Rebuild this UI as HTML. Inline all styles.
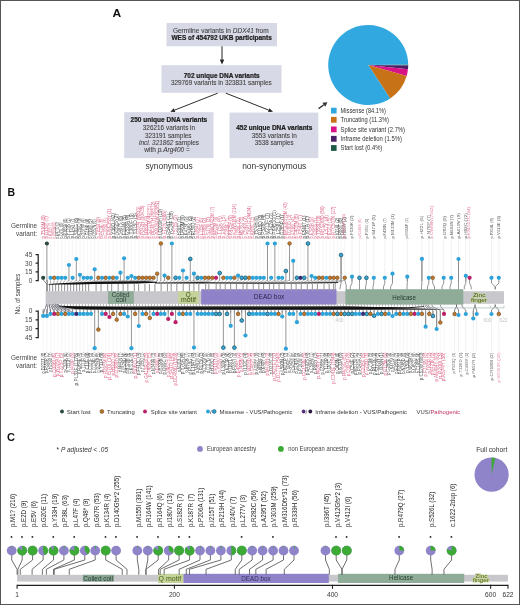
<!DOCTYPE html>
<html><head><meta charset="utf-8"><style>
html,body{margin:0;padding:0;background:#fff;}
svg{display:block;font-family:"Liberation Sans", sans-serif;will-change:transform;}
</style></head><body>
<svg width="520" height="605" viewBox="0 0 520 605" font-family='"Liberation Sans", sans-serif'>
<rect width="520" height="605" fill="#fff"/>
<rect x="0.5" y="0.5" width="519" height="604" fill="none" stroke="#555" stroke-width="1"/>
<text x="112.40" y="16.60" font-size="11" fill="#111" text-anchor="start" font-weight="bold" textLength="8.70" lengthAdjust="spacingAndGlyphs">A</text>
<rect x="166.5" y="23" width="110.5" height="23.3" fill="#d8d9e6"/>
<text x="172.90" y="32.90" font-size="6.4" fill="#3e3e3e" text-anchor="start" textLength="95.80" lengthAdjust="spacingAndGlyphs" stroke="#3e3e3e" stroke-width="0.08">Germline variants in <tspan font-style="italic">DDX41</tspan> from</text>
<text x="171.50" y="40.40" font-size="6.4" fill="#1e1e1e" text-anchor="start" font-weight="bold" textLength="100.30" lengthAdjust="spacingAndGlyphs" stroke="#1e1e1e" stroke-width="0.22">WES of 454792 UKB participants</text>
<rect x="161.5" y="65.2" width="120" height="27.6" fill="#d8d9e6"/>
<text x="183.70" y="77.60" font-size="6.4" fill="#1e1e1e" text-anchor="start" font-weight="bold" textLength="76.00" lengthAdjust="spacingAndGlyphs" stroke="#1e1e1e" stroke-width="0.22">702 unique DNA variants</text>
<text x="170.90" y="85.40" font-size="6.4" fill="#3e3e3e" text-anchor="start" textLength="100.90" lengthAdjust="spacingAndGlyphs" stroke="#3e3e3e" stroke-width="0.08">329769 variants in 323831 samples</text>
<rect x="124.2" y="112.2" width="89.3" height="45.9" fill="#d8d9e6"/>
<text x="130.60" y="121.80" font-size="6.4" fill="#1e1e1e" text-anchor="start" font-weight="bold" textLength="76.60" lengthAdjust="spacingAndGlyphs" stroke="#1e1e1e" stroke-width="0.22">250 unique DNA variants</text>
<text x="142.80" y="130.30" font-size="6.4" fill="#3e3e3e" text-anchor="start" textLength="52.30" lengthAdjust="spacingAndGlyphs" stroke="#3e3e3e" stroke-width="0.08">326216 variants in</text>
<text x="145.00" y="137.50" font-size="6.4" fill="#3e3e3e" text-anchor="start" textLength="46.50" lengthAdjust="spacingAndGlyphs" stroke="#3e3e3e" stroke-width="0.08">323191 samples</text>
<text x="139.00" y="144.80" font-size="6.4" fill="#3e3e3e" text-anchor="start" textLength="59.90" lengthAdjust="spacingAndGlyphs" stroke="#3e3e3e" stroke-width="0.08"><tspan font-style="italic">incl. 321862</tspan> samples</text>
<text x="144.30" y="152.20" font-size="6.4" fill="#3e3e3e" text-anchor="start" textLength="45.50" lengthAdjust="spacingAndGlyphs" stroke="#3e3e3e" stroke-width="0.08">with <tspan font-style="italic">p.Arg400</tspan> =</text>
<rect x="229.5" y="112.6" width="88.8" height="45.5" fill="#d8d9e6"/>
<text x="236.20" y="129.80" font-size="6.4" fill="#1e1e1e" text-anchor="start" font-weight="bold" textLength="76.20" lengthAdjust="spacingAndGlyphs" stroke="#1e1e1e" stroke-width="0.22">452 unique DNA variants</text>
<text x="251.70" y="137.50" font-size="6.4" fill="#3e3e3e" text-anchor="start" textLength="45.00" lengthAdjust="spacingAndGlyphs" stroke="#3e3e3e" stroke-width="0.08">3553 variants in</text>
<text x="254.80" y="145.10" font-size="6.4" fill="#3e3e3e" text-anchor="start" textLength="38.80" lengthAdjust="spacingAndGlyphs" stroke="#3e3e3e" stroke-width="0.08">3538 samples</text>
<text x="145.40" y="168.80" font-size="8.8" fill="#333" text-anchor="start" textLength="47.20" lengthAdjust="spacingAndGlyphs">synonymous</text>
<text x="242.20" y="168.80" font-size="8.8" fill="#333" text-anchor="start" textLength="64.10" lengthAdjust="spacingAndGlyphs">non-synonymous</text>
<line x1="222" y1="46.3" x2="222.00" y2="59.60" stroke="#222" stroke-width="1.0"/>
<polygon points="222,64.4 219.80,59.60 224.20,59.60" fill="#222"/>
<line x1="217.7" y1="93.2" x2="174.58" y2="110.12" stroke="#222" stroke-width="0.95"/>
<polygon points="170.3,111.8 173.85,108.26 175.31,111.98" fill="#222"/>
<line x1="225.9" y1="93.2" x2="268.72" y2="110.11" stroke="#222" stroke-width="0.95"/>
<polygon points="273.0,111.8 267.99,111.97 269.46,108.25" fill="#222"/>
<line x1="318.6" y1="108.6" x2="323.84" y2="104.79" stroke="#333" stroke-width="1.3"/>
<polygon points="327.4,102.2 325.31,106.81 322.37,102.77" fill="#333"/>
<path d="M368.2,65.0 L408.20,64.58 A40,40 0 0 1 408.20,65.59 Z" fill="#1d5b45"/>
<path d="M368.2,65.0 L408.20,65.59 A40,40 0 0 1 407.96,69.35 Z" fill="#4a1f66"/>
<path d="M368.2,65.0 L407.96,69.35 A40,40 0 0 1 406.66,76.00 Z" fill="#da1287"/>
<path d="M368.2,65.0 L406.66,76.00 A40,40 0 0 1 390.20,98.41 Z" fill="#c87218"/>
<path d="M368.2,65.0 L390.20,98.41 A40,40 0 1 1 408.20,64.58 Z" fill="#31a8df"/>
<rect x="331" y="107.70" width="5.6" height="5.8" fill="#31a8df"/>
<text x="340.60" y="112.90" font-size="6.3" fill="#333" text-anchor="start" textLength="45.20" lengthAdjust="spacingAndGlyphs">Missense (84.1%)</text>
<rect x="331" y="116.90" width="5.6" height="5.8" fill="#c87218"/>
<text x="340.60" y="122.10" font-size="6.3" fill="#333" text-anchor="start" textLength="48.40" lengthAdjust="spacingAndGlyphs">Truncating (11.3%)</text>
<rect x="331" y="126.50" width="5.6" height="5.8" fill="#da1287"/>
<text x="340.60" y="131.70" font-size="6.3" fill="#333" text-anchor="start" textLength="64.40" lengthAdjust="spacingAndGlyphs">Splice site variant (2.7%)</text>
<rect x="331" y="135.90" width="5.6" height="5.8" fill="#4a1f66"/>
<text x="340.60" y="141.10" font-size="6.3" fill="#333" text-anchor="start" textLength="61.30" lengthAdjust="spacingAndGlyphs">Inframe deletion (1.5%)</text>
<rect x="331" y="145.10" width="5.6" height="5.8" fill="#1d5b45"/>
<text x="340.60" y="150.30" font-size="6.3" fill="#333" text-anchor="start" textLength="41.70" lengthAdjust="spacingAndGlyphs">Start lost (0.4%)</text>
<text x="7.00" y="440.50" font-size="11" fill="#111" text-anchor="start" font-weight="bold">C</text>
<text x="56.60" y="451.90" font-size="6.9" fill="#333" text-anchor="start" textLength="51.50" lengthAdjust="spacingAndGlyphs">* <tspan font-style="italic">P adjusted &lt; .05</tspan></text>
<circle cx="200" cy="448.9" r="2.9" fill="#8f83c9"/>
<text x="206.90" y="451.40" font-size="6.5" fill="#444" text-anchor="start" textLength="49.40" lengthAdjust="spacingAndGlyphs">European ancestry</text>
<circle cx="280.9" cy="448.9" r="2.9" fill="#3daa36"/>
<text x="288.20" y="451.40" font-size="6.5" fill="#444" text-anchor="start" textLength="60.30" lengthAdjust="spacingAndGlyphs">non European ancestry</text>
<text x="476.20" y="451.50" font-size="6.5" fill="#333" text-anchor="start" textLength="31.10" lengthAdjust="spacingAndGlyphs">Full cohort</text>
<circle cx="491.6" cy="474.6" r="17.1" fill="#8f83c9"/>
<path d="M491.6,474.6 L491.60,457.50 A17.1,17.1 0 0 1 495.33,457.91 Z" fill="#3daa36"/>
<rect x="17.1" y="574.8" width="490.8" height="6.8" fill="#c8c8cc"/>
<rect x="82.80" y="574.8" width="31.20" height="6.80" fill="#86a491"/>
<rect x="158.00" y="573.8" width="25.50" height="9.20" fill="#c4d39a"/>
<rect x="183.50" y="573.8" width="145.30" height="9.20" fill="#8f82c9"/>
<rect x="338.00" y="573.8" width="126.20" height="9.20" fill="#8fac99"/>
<text x="83.20" y="580.90" font-size="7" fill="#2a3d33" text-anchor="start" textLength="29.80" lengthAdjust="spacingAndGlyphs">Coiled coil</text>
<text x="158.60" y="581.00" font-size="6.6" fill="#4a5e18" text-anchor="start" textLength="22.50" lengthAdjust="spacingAndGlyphs">Q motif</text>
<text x="241.20" y="581.20" font-size="6.8" fill="#34305e" text-anchor="start" textLength="29.50" lengthAdjust="spacingAndGlyphs">DEAD box</text>
<text x="389.10" y="580.40" font-size="6.6" fill="#28402f" text-anchor="start" textLength="24.10" lengthAdjust="spacingAndGlyphs">Helicase</text>
<text x="475.30" y="577.60" font-size="5.6" fill="#55621a" text-anchor="start" textLength="12.20" lengthAdjust="spacingAndGlyphs" stroke="#c8d99c" stroke-width="1.1" paint-order="stroke">Zinc</text>
<text x="472.70" y="581.50" font-size="5.6" fill="#55621a" text-anchor="start" textLength="16.40" lengthAdjust="spacingAndGlyphs" stroke="#c8d99c" stroke-width="1.1" paint-order="stroke">finger</text>
<line x1="17.1" y1="585.4" x2="508" y2="585.4" stroke="#222" stroke-width="1.3"/>
<line x1="17.10" y1="584.8" x2="17.10" y2="588.8" stroke="#222" stroke-width="1.1"/>
<text x="17.10" y="596.70" font-size="6.6" fill="#333" text-anchor="middle">1</text>
<line x1="174.41" y1="584.8" x2="174.41" y2="588.8" stroke="#222" stroke-width="1.1"/>
<text x="174.41" y="596.70" font-size="6.6" fill="#333" text-anchor="middle">200</text>
<line x1="332.51" y1="584.8" x2="332.51" y2="588.8" stroke="#222" stroke-width="1.1"/>
<text x="332.51" y="596.70" font-size="6.6" fill="#333" text-anchor="middle">400</text>
<line x1="490.61" y1="584.8" x2="490.61" y2="588.8" stroke="#222" stroke-width="1.1"/>
<text x="490.61" y="596.70" font-size="6.6" fill="#333" text-anchor="middle">600</text>
<line x1="508.00" y1="584.8" x2="508.00" y2="588.8" stroke="#222" stroke-width="1.1"/>
<text x="508.00" y="596.70" font-size="6.6" fill="#333" text-anchor="middle">622</text>
<path d="M11.7,555 L11.7,560 L17.10,569.3 L17.10,574.7" fill="none" stroke="#555" stroke-width="0.85"/>
<path d="M22.2,555 L22.2,560 L17.89,569.3 L17.89,574.7" fill="none" stroke="#555" stroke-width="0.85"/>
<path d="M32.6,555 L32.6,560 L20.26,569.3 L20.26,574.7" fill="none" stroke="#555" stroke-width="0.85"/>
<path d="M43.1,555 L43.1,560 L32.12,569.3 L32.12,574.7" fill="none" stroke="#555" stroke-width="0.85"/>
<path d="M53.5,555 L53.5,560 L42.40,569.3 L42.40,574.7" fill="none" stroke="#555" stroke-width="0.85"/>
<path d="M63.9,555 L63.9,560 L46.35,569.3 L46.35,574.7" fill="none" stroke="#555" stroke-width="0.85"/>
<path d="M74.4,555 L74.4,560 L53.46,569.3 L53.46,574.7" fill="none" stroke="#555" stroke-width="0.85"/>
<path d="M84.8,555 L84.8,560 L54.25,569.3 L54.25,574.7" fill="none" stroke="#555" stroke-width="0.85"/>
<path d="M95.2,555 L95.2,560 L69.27,569.3 L69.27,574.7" fill="none" stroke="#555" stroke-width="0.85"/>
<path d="M105.7,555 L105.7,560 L122.24,569.3 L122.24,574.7" fill="none" stroke="#555" stroke-width="0.85"/>
<path d="M116.1,555 L116.1,560 L126.98,569.3 L126.98,574.7" fill="none" stroke="#555" stroke-width="0.85"/>
<path d="M137.3,555 L137.3,560 L138.84,569.3 L138.84,574.7" fill="none" stroke="#555" stroke-width="0.85"/>
<path d="M147.8,555 L147.8,560 L145.95,569.3 L145.95,574.7" fill="none" stroke="#555" stroke-width="0.85"/>
<path d="M158.2,555 L158.2,560 L145.95,569.3 L145.95,574.7" fill="none" stroke="#555" stroke-width="0.85"/>
<path d="M168.7,555 L168.7,560 L158.60,569.3 L158.60,574.7" fill="none" stroke="#555" stroke-width="0.85"/>
<path d="M179.1,555 L179.1,560 L160.18,569.3 L160.18,574.7" fill="none" stroke="#555" stroke-width="0.85"/>
<path d="M189.6,555 L189.6,560 L164.13,569.3 L164.13,574.7" fill="none" stroke="#555" stroke-width="0.85"/>
<path d="M200.0,555 L200.0,560 L179.15,569.3 L179.15,574.7" fill="none" stroke="#555" stroke-width="0.85"/>
<path d="M210.4,555 L210.4,560 L186.27,569.3 L186.27,574.7" fill="none" stroke="#555" stroke-width="0.85"/>
<path d="M220.9,555 L220.9,560 L189.43,569.3 L189.43,574.7" fill="none" stroke="#555" stroke-width="0.85"/>
<path d="M231.3,555 L231.3,560 L206.03,569.3 L206.03,574.7" fill="none" stroke="#555" stroke-width="0.85"/>
<path d="M241.8,555 L241.8,560 L235.28,569.3 L235.28,574.7" fill="none" stroke="#555" stroke-width="0.85"/>
<path d="M252.2,555 L252.2,560 L239.23,569.3 L239.23,574.7" fill="none" stroke="#555" stroke-width="0.85"/>
<path d="M262.6,555 L262.6,560 L249.51,569.3 L249.51,574.7" fill="none" stroke="#555" stroke-width="0.85"/>
<path d="M273.1,555 L273.1,560 L255.83,569.3 L255.83,574.7" fill="none" stroke="#555" stroke-width="0.85"/>
<path d="M283.5,555 L283.5,560 L266.11,569.3 L266.11,574.7" fill="none" stroke="#555" stroke-width="0.85"/>
<path d="M294.0,555 L294.0,560 L284.29,569.3 L284.29,574.7" fill="none" stroke="#555" stroke-width="0.85"/>
<path d="M325.5,555 L325.5,560 L329.35,569.3 L329.35,574.7" fill="none" stroke="#555" stroke-width="0.85"/>
<path d="M336.2,555 L336.2,560 L342.00,569.3 L342.00,574.7" fill="none" stroke="#555" stroke-width="0.85"/>
<path d="M346.8,555 L346.8,560 L342.00,569.3 L342.00,574.7" fill="none" stroke="#555" stroke-width="0.85"/>
<path d="M399.3,555 L399.3,560 L394.96,569.3 L394.96,574.7" fill="none" stroke="#555" stroke-width="0.85"/>
<path d="M430.7,555 L430.7,560 L432.11,569.3 L432.11,574.7" fill="none" stroke="#555" stroke-width="0.85"/>
<path d="M451.6,555 L451.6,560 L443.97,569.3 L443.97,574.7" fill="none" stroke="#555" stroke-width="0.85"/>
<circle cx="11.7" cy="550.6" r="4.9" fill="#8f83c9"/>
<path d="M11.7,550.6 L11.70,545.70 A4.9,4.9 0 0 1 12.31,545.74 Z" fill="#3daa36"/>
<circle cx="11.50" cy="536.9" r="0.95" fill="#222"/>
<text transform="translate(15.00,527.1) rotate(-90)" font-size="7" fill="#262626" textLength="33.21" lengthAdjust="spacingAndGlyphs">p.M1? (216)</text>
<circle cx="22.2" cy="550.6" r="4.9" fill="#8f83c9"/>
<path d="M22.2,550.6 L22.20,545.70 A4.9,4.9 0 1 1 18.24,547.72 Z" fill="#3daa36"/>
<circle cx="22.00" cy="536.9" r="0.95" fill="#222"/>
<text transform="translate(25.50,527.1) rotate(-90)" font-size="7" fill="#262626" textLength="26.36" lengthAdjust="spacingAndGlyphs">p.E2D (9)</text>
<circle cx="32.6" cy="550.6" r="4.9" fill="#8f83c9"/>
<circle cx="32.6" cy="550.6" r="4.9" fill="#3daa36"/>
<circle cx="32.40" cy="536.9" r="0.95" fill="#222"/>
<text transform="translate(35.90,527.1) rotate(-90)" font-size="7" fill="#262626" textLength="26.02" lengthAdjust="spacingAndGlyphs">p.E5V (6)</text>
<circle cx="43.1" cy="550.6" r="4.9" fill="#8f83c9"/>
<path d="M43.1,550.6 L43.10,545.70 A4.9,4.9 0 0 1 44.61,555.26 Z" fill="#3daa36"/>
<text transform="translate(46.40,527.1) rotate(-90)" font-size="7" fill="#262626" textLength="33.10" lengthAdjust="spacingAndGlyphs">p.G20E (11)</text>
<circle cx="53.5" cy="550.6" r="4.9" fill="#8f83c9"/>
<path d="M53.5,550.6 L53.50,545.70 A4.9,4.9 0 1 1 50.62,546.64 Z" fill="#3daa36"/>
<circle cx="53.30" cy="536.9" r="0.95" fill="#222"/>
<text transform="translate(56.80,527.1) rotate(-90)" font-size="7" fill="#262626" textLength="33.21" lengthAdjust="spacingAndGlyphs">p.Y33H (19)</text>
<circle cx="63.9" cy="550.6" r="4.9" fill="#8f83c9"/>
<path d="M63.9,550.6 L63.90,545.70 A4.9,4.9 0 0 1 64.82,545.79 Z" fill="#3daa36"/>
<text transform="translate(67.20,527.1) rotate(-90)" font-size="7" fill="#262626" textLength="31.96" lengthAdjust="spacingAndGlyphs">p.P38L (63)</text>
<circle cx="74.4" cy="550.6" r="4.9" fill="#8f83c9"/>
<path d="M74.4,550.6 L74.40,545.70 A4.9,4.9 0 1 1 69.74,549.09 Z" fill="#3daa36"/>
<circle cx="74.20" cy="536.9" r="0.95" fill="#222"/>
<text transform="translate(77.70,527.1) rotate(-90)" font-size="7" fill="#262626" textLength="28.41" lengthAdjust="spacingAndGlyphs">p.L47F (4)</text>
<circle cx="84.8" cy="550.6" r="4.9" fill="#8f83c9"/>
<path d="M84.8,550.6 L84.80,545.70 A4.9,4.9 0 0 1 87.68,554.56 Z" fill="#3daa36"/>
<text transform="translate(88.10,527.1) rotate(-90)" font-size="7" fill="#262626" textLength="28.42" lengthAdjust="spacingAndGlyphs">p.Q48* (9)</text>
<circle cx="95.2" cy="550.6" r="4.9" fill="#8f83c9"/>
<path d="M95.2,550.6 L95.20,545.70 A4.9,4.9 0 0 1 96.42,545.85 Z" fill="#3daa36"/>
<text transform="translate(98.50,527.1) rotate(-90)" font-size="7" fill="#262626" textLength="33.89" lengthAdjust="spacingAndGlyphs">p.G67R (53)</text>
<circle cx="105.7" cy="550.6" r="4.9" fill="#8f83c9"/>
<circle cx="105.7" cy="550.6" r="4.9" fill="#3daa36"/>
<circle cx="105.50" cy="536.9" r="0.95" fill="#222"/>
<text transform="translate(109.00,527.1) rotate(-90)" font-size="7" fill="#262626" textLength="33.21" lengthAdjust="spacingAndGlyphs">p.K134R (4)</text>
<circle cx="116.1" cy="550.6" r="4.9" fill="#8f83c9"/>
<circle cx="115.90" cy="536.9" r="0.95" fill="#222"/>
<text transform="translate(119.40,527.1) rotate(-90)" font-size="7" fill="#262626" textLength="51.36" lengthAdjust="spacingAndGlyphs">p.D140Gfs*2 (255)</text>
<circle cx="137.3" cy="550.6" r="4.9" fill="#8f83c9"/>
<path d="M137.3,550.6 L137.30,545.70 A4.9,4.9 0 0 1 137.91,545.74 Z" fill="#3daa36"/>
<circle cx="137.10" cy="536.9" r="0.95" fill="#222"/>
<text transform="translate(140.60,527.1) rotate(-90)" font-size="7" fill="#262626" textLength="38.35" lengthAdjust="spacingAndGlyphs">p.M155I (391)</text>
<circle cx="147.8" cy="550.6" r="4.9" fill="#8f83c9"/>
<path d="M147.8,550.6 L147.80,545.70 A4.9,4.9 0 0 1 148.41,545.74 Z" fill="#3daa36"/>
<text transform="translate(151.10,527.1) rotate(-90)" font-size="7" fill="#262626" textLength="41.77" lengthAdjust="spacingAndGlyphs">p.R164W (141)</text>
<circle cx="158.2" cy="550.6" r="4.9" fill="#8f83c9"/>
<path d="M158.2,550.6 L158.20,545.70 A4.9,4.9 0 1 1 154.24,547.72 Z" fill="#3daa36"/>
<circle cx="158.00" cy="536.9" r="0.95" fill="#222"/>
<text transform="translate(161.50,527.1) rotate(-90)" font-size="7" fill="#262626" textLength="33.89" lengthAdjust="spacingAndGlyphs">p.R164Q (6)</text>
<circle cx="168.7" cy="550.6" r="4.9" fill="#8f83c9"/>
<path d="M168.7,550.6 L168.70,545.70 A4.9,4.9 0 0 1 172.66,553.48 Z" fill="#3daa36"/>
<text transform="translate(172.00,527.1) rotate(-90)" font-size="7" fill="#262626" textLength="33.90" lengthAdjust="spacingAndGlyphs">p.I180V (13)</text>
<circle cx="179.1" cy="550.6" r="4.9" fill="#8f83c9"/>
<circle cx="179.1" cy="550.6" r="4.9" fill="#3daa36"/>
<circle cx="178.90" cy="536.9" r="0.95" fill="#222"/>
<text transform="translate(182.40,527.1) rotate(-90)" font-size="7" fill="#262626" textLength="33.21" lengthAdjust="spacingAndGlyphs">p.S182R (7)</text>
<circle cx="189.6" cy="550.6" r="4.9" fill="#8f83c9"/>
<path d="M189.6,550.6 L189.60,545.70 A4.9,4.9 0 1 1 186.25,547.03 Z" fill="#3daa36"/>
<circle cx="189.40" cy="536.9" r="0.95" fill="#222"/>
<text transform="translate(192.90,527.1) rotate(-90)" font-size="7" fill="#262626" textLength="33.21" lengthAdjust="spacingAndGlyphs">p.K187R (7)</text>
<circle cx="200.0" cy="550.6" r="4.9" fill="#8f83c9"/>
<path d="M200.0,550.6 L200.00,545.70 A4.9,4.9 0 0 1 200.61,545.74 Z" fill="#3daa36"/>
<text transform="translate(203.30,527.1) rotate(-90)" font-size="7" fill="#262626" textLength="39.38" lengthAdjust="spacingAndGlyphs">p.P206A (131)</text>
<circle cx="210.4" cy="550.6" r="4.9" fill="#8f83c9"/>
<path d="M210.4,550.6 L210.40,545.70 A4.9,4.9 0 0 1 211.01,545.74 Z" fill="#3daa36"/>
<text transform="translate(213.70,527.1) rotate(-90)" font-size="7" fill="#262626" textLength="33.44" lengthAdjust="spacingAndGlyphs">p.I215T (51)</text>
<circle cx="220.9" cy="550.6" r="4.9" fill="#8f83c9"/>
<path d="M220.9,550.6 L220.90,545.70 A4.9,4.9 0 0 1 221.82,545.79 Z" fill="#3daa36"/>
<text transform="translate(224.20,527.1) rotate(-90)" font-size="7" fill="#262626" textLength="36.98" lengthAdjust="spacingAndGlyphs">p.R219H (44)</text>
<circle cx="231.3" cy="550.6" r="4.9" fill="#8f83c9"/>
<path d="M231.3,550.6 L231.30,545.70 A4.9,4.9 0 0 1 231.30,555.50 Z" fill="#3daa36"/>
<text transform="translate(234.60,527.1) rotate(-90)" font-size="7" fill="#262626" textLength="30.47" lengthAdjust="spacingAndGlyphs">p.I240V (7)</text>
<circle cx="241.8" cy="550.6" r="4.9" fill="#8f83c9"/>
<circle cx="241.8" cy="550.6" r="4.9" fill="#3daa36"/>
<circle cx="241.60" cy="536.9" r="0.95" fill="#222"/>
<text transform="translate(245.10,527.1) rotate(-90)" font-size="7" fill="#262626" textLength="32.19" lengthAdjust="spacingAndGlyphs">p.L277V (3)</text>
<circle cx="252.2" cy="550.6" r="4.9" fill="#8f83c9"/>
<path d="M252.2,550.6 L252.20,545.70 A4.9,4.9 0 0 1 252.81,545.74 Z" fill="#3daa36"/>
<text transform="translate(255.50,527.1) rotate(-90)" font-size="7" fill="#262626" textLength="36.98" lengthAdjust="spacingAndGlyphs">p.R282C (56)</text>
<circle cx="262.6" cy="550.6" r="4.9" fill="#8f83c9"/>
<path d="M262.6,550.6 L262.60,545.70 A4.9,4.9 0 0 1 263.21,545.74 Z" fill="#3daa36"/>
<text transform="translate(265.90,527.1) rotate(-90)" font-size="7" fill="#262626" textLength="35.84" lengthAdjust="spacingAndGlyphs">p.A295T (52)</text>
<circle cx="273.1" cy="550.6" r="4.9" fill="#8f83c9"/>
<path d="M273.1,550.6 L273.10,545.70 A4.9,4.9 0 0 1 273.71,545.74 Z" fill="#3daa36"/>
<circle cx="272.90" cy="536.9" r="0.95" fill="#222"/>
<text transform="translate(276.40,527.1) rotate(-90)" font-size="7" fill="#262626" textLength="40.74" lengthAdjust="spacingAndGlyphs">p.V303M (259)</text>
<circle cx="283.5" cy="550.6" r="4.9" fill="#8f83c9"/>
<path d="M283.5,550.6 L283.50,545.70 A4.9,4.9 0 0 1 284.11,545.74 Z" fill="#3daa36"/>
<text transform="translate(286.80,527.1) rotate(-90)" font-size="7" fill="#262626" textLength="51.70" lengthAdjust="spacingAndGlyphs">p.M316Dfs*31 (73)</text>
<circle cx="294.0" cy="550.6" r="4.9" fill="#8f83c9"/>
<path d="M294.0,550.6 L294.00,545.70 A4.9,4.9 0 0 1 294.92,545.79 Z" fill="#3daa36"/>
<text transform="translate(297.30,527.1) rotate(-90)" font-size="7" fill="#262626" textLength="36.98" lengthAdjust="spacingAndGlyphs">p.R339H (56)</text>
<circle cx="325.5" cy="550.6" r="4.9" fill="#8f83c9"/>
<path d="M325.5,550.6 L325.50,545.70 A4.9,4.9 0 0 1 326.11,545.74 Z" fill="#3daa36"/>
<text transform="translate(328.80,527.1) rotate(-90)" font-size="7" fill="#262626" textLength="33.44" lengthAdjust="spacingAndGlyphs">p.I396T (45)</text>
<circle cx="336.2" cy="550.6" r="4.9" fill="#8f83c9"/>
<circle cx="336.2" cy="550.6" r="4.9" fill="#3daa36"/>
<circle cx="336.00" cy="536.9" r="0.95" fill="#222"/>
<text transform="translate(339.50,527.1) rotate(-90)" font-size="7" fill="#262626" textLength="44.17" lengthAdjust="spacingAndGlyphs">p.V412Gfs*2 (3)</text>
<circle cx="346.8" cy="550.6" r="4.9" fill="#8f83c9"/>
<circle cx="346.8" cy="550.6" r="4.9" fill="#3daa36"/>
<circle cx="346.60" cy="536.9" r="0.95" fill="#222"/>
<text transform="translate(350.10,527.1) rotate(-90)" font-size="7" fill="#262626" textLength="30.47" lengthAdjust="spacingAndGlyphs">p.V412I (6)</text>
<circle cx="399.3" cy="550.6" r="4.9" fill="#8f83c9"/>
<path d="M399.3,550.6 L399.30,545.70 A4.9,4.9 0 0 1 404.20,550.60 Z" fill="#3daa36"/>
<circle cx="399.10" cy="536.9" r="0.95" fill="#222"/>
<text transform="translate(402.60,527.1) rotate(-90)" font-size="7" fill="#262626" textLength="37.32" lengthAdjust="spacingAndGlyphs">p.R479Q (27)</text>
<circle cx="430.7" cy="550.6" r="4.9" fill="#8f83c9"/>
<path d="M430.7,550.6 L430.70,545.70 A4.9,4.9 0 0 1 435.60,550.60 Z" fill="#3daa36"/>
<circle cx="430.50" cy="536.9" r="0.95" fill="#222"/>
<text transform="translate(434.00,527.1) rotate(-90)" font-size="7" fill="#262626" textLength="35.38" lengthAdjust="spacingAndGlyphs">p.S526L (32)</text>
<circle cx="451.6" cy="550.6" r="4.9" fill="#8f83c9"/>
<path d="M451.6,550.6 L451.60,545.70 A4.9,4.9 0 1 1 446.94,549.09 Z" fill="#3daa36"/>
<circle cx="451.40" cy="536.9" r="0.95" fill="#222"/>
<text transform="translate(454.90,527.1) rotate(-90)" font-size="7" fill="#262626" textLength="43.49" lengthAdjust="spacingAndGlyphs">c.1622-2dup (6)</text>
<text x="7.50" y="196.30" font-size="10.5" fill="#111" text-anchor="start" font-weight="bold">B</text>
<g><line x1="43.20" y1="239.5" x2="43.20" y2="277.80" stroke="#ececec" stroke-width="0.5"/><line x1="46.88" y1="239.5" x2="46.88" y2="243.50" stroke="#ececec" stroke-width="0.5"/><line x1="50.55" y1="239.5" x2="50.55" y2="277.80" stroke="#ececec" stroke-width="0.5"/><line x1="54.23" y1="239.5" x2="54.23" y2="277.80" stroke="#ececec" stroke-width="0.5"/><line x1="57.91" y1="239.5" x2="57.91" y2="277.80" stroke="#ececec" stroke-width="0.5"/><line x1="61.59" y1="239.5" x2="61.59" y2="277.80" stroke="#ececec" stroke-width="0.5"/><line x1="65.26" y1="239.5" x2="65.26" y2="277.80" stroke="#ececec" stroke-width="0.5"/><line x1="68.94" y1="239.5" x2="68.94" y2="265.00" stroke="#ececec" stroke-width="0.5"/><line x1="72.62" y1="239.5" x2="72.62" y2="277.80" stroke="#ececec" stroke-width="0.5"/><line x1="76.29" y1="239.5" x2="76.29" y2="259.00" stroke="#ececec" stroke-width="0.5"/><line x1="79.97" y1="239.5" x2="79.97" y2="274.80" stroke="#ececec" stroke-width="0.5"/><line x1="83.65" y1="239.5" x2="83.65" y2="277.80" stroke="#ececec" stroke-width="0.5"/><line x1="87.32" y1="239.5" x2="87.32" y2="277.80" stroke="#ececec" stroke-width="0.5"/><line x1="91.00" y1="239.5" x2="91.00" y2="277.80" stroke="#ececec" stroke-width="0.5"/><line x1="94.68" y1="239.5" x2="94.68" y2="269.30" stroke="#ececec" stroke-width="0.5"/><line x1="98.36" y1="239.5" x2="98.36" y2="277.80" stroke="#ececec" stroke-width="0.5"/><line x1="102.03" y1="239.5" x2="102.03" y2="277.80" stroke="#ececec" stroke-width="0.5"/><line x1="105.71" y1="239.5" x2="105.71" y2="277.80" stroke="#ececec" stroke-width="0.5"/><line x1="109.39" y1="239.5" x2="109.39" y2="277.80" stroke="#ececec" stroke-width="0.5"/><line x1="113.06" y1="239.5" x2="113.06" y2="277.80" stroke="#ececec" stroke-width="0.5"/><line x1="116.74" y1="239.5" x2="116.74" y2="277.80" stroke="#ececec" stroke-width="0.5"/><line x1="120.42" y1="239.5" x2="120.42" y2="272.70" stroke="#ececec" stroke-width="0.5"/><line x1="124.09" y1="239.5" x2="124.09" y2="258.30" stroke="#ececec" stroke-width="0.5"/><line x1="127.77" y1="239.5" x2="127.77" y2="277.80" stroke="#ececec" stroke-width="0.5"/><line x1="131.45" y1="239.5" x2="131.45" y2="276.00" stroke="#ececec" stroke-width="0.5"/><line x1="135.12" y1="239.5" x2="135.12" y2="277.80" stroke="#ececec" stroke-width="0.5"/><line x1="138.80" y1="239.5" x2="138.80" y2="277.80" stroke="#ececec" stroke-width="0.5"/><line x1="142.48" y1="239.5" x2="142.48" y2="277.80" stroke="#ececec" stroke-width="0.5"/><line x1="146.16" y1="239.5" x2="146.16" y2="277.80" stroke="#ececec" stroke-width="0.5"/><line x1="149.83" y1="239.5" x2="149.83" y2="277.80" stroke="#ececec" stroke-width="0.5"/><line x1="153.51" y1="239.5" x2="153.51" y2="277.80" stroke="#ececec" stroke-width="0.5"/><line x1="157.19" y1="239.5" x2="157.19" y2="273.70" stroke="#ececec" stroke-width="0.5"/><line x1="160.86" y1="239.5" x2="160.86" y2="243.50" stroke="#ececec" stroke-width="0.5"/><line x1="164.54" y1="239.5" x2="164.54" y2="275.60" stroke="#ececec" stroke-width="0.5"/><line x1="168.22" y1="239.5" x2="168.22" y2="277.80" stroke="#ececec" stroke-width="0.5"/><line x1="171.89" y1="239.5" x2="171.89" y2="243.50" stroke="#ececec" stroke-width="0.5"/><line x1="175.57" y1="239.5" x2="175.57" y2="277.80" stroke="#ececec" stroke-width="0.5"/><line x1="179.25" y1="239.5" x2="179.25" y2="277.80" stroke="#ececec" stroke-width="0.5"/><line x1="182.93" y1="239.5" x2="182.93" y2="270.50" stroke="#ececec" stroke-width="0.5"/><line x1="186.60" y1="239.5" x2="186.60" y2="277.80" stroke="#ececec" stroke-width="0.5"/><line x1="190.28" y1="239.5" x2="190.28" y2="258.90" stroke="#ececec" stroke-width="0.5"/><line x1="193.96" y1="239.5" x2="193.96" y2="273.70" stroke="#ececec" stroke-width="0.5"/><line x1="197.63" y1="239.5" x2="197.63" y2="277.80" stroke="#ececec" stroke-width="0.5"/><line x1="201.31" y1="239.5" x2="201.31" y2="277.80" stroke="#ececec" stroke-width="0.5"/><line x1="204.99" y1="239.5" x2="204.99" y2="277.80" stroke="#ececec" stroke-width="0.5"/><line x1="208.67" y1="239.5" x2="208.67" y2="277.80" stroke="#ececec" stroke-width="0.5"/><line x1="212.34" y1="239.5" x2="212.34" y2="277.80" stroke="#ececec" stroke-width="0.5"/><line x1="216.02" y1="239.5" x2="216.02" y2="277.80" stroke="#ececec" stroke-width="0.5"/><line x1="219.70" y1="239.5" x2="219.70" y2="273.00" stroke="#ececec" stroke-width="0.5"/><line x1="223.37" y1="239.5" x2="223.37" y2="277.80" stroke="#ececec" stroke-width="0.5"/><line x1="227.05" y1="239.5" x2="227.05" y2="277.80" stroke="#ececec" stroke-width="0.5"/><line x1="230.73" y1="239.5" x2="230.73" y2="277.80" stroke="#ececec" stroke-width="0.5"/><line x1="234.40" y1="239.5" x2="234.40" y2="277.80" stroke="#ececec" stroke-width="0.5"/><line x1="238.08" y1="239.5" x2="238.08" y2="275.60" stroke="#ececec" stroke-width="0.5"/><line x1="241.76" y1="239.5" x2="241.76" y2="277.80" stroke="#ececec" stroke-width="0.5"/><line x1="245.44" y1="239.5" x2="245.44" y2="277.80" stroke="#ececec" stroke-width="0.5"/><line x1="249.11" y1="239.5" x2="249.11" y2="277.80" stroke="#ececec" stroke-width="0.5"/><line x1="252.79" y1="239.5" x2="252.79" y2="277.80" stroke="#ececec" stroke-width="0.5"/><line x1="256.47" y1="239.5" x2="256.47" y2="277.80" stroke="#ececec" stroke-width="0.5"/><line x1="260.14" y1="239.5" x2="260.14" y2="277.80" stroke="#ececec" stroke-width="0.5"/><line x1="263.82" y1="239.5" x2="263.82" y2="277.80" stroke="#ececec" stroke-width="0.5"/><line x1="267.50" y1="239.5" x2="267.50" y2="243.50" stroke="#ececec" stroke-width="0.5"/><line x1="271.17" y1="239.5" x2="271.17" y2="277.80" stroke="#ececec" stroke-width="0.5"/><line x1="274.85" y1="239.5" x2="274.85" y2="243.50" stroke="#ececec" stroke-width="0.5"/><line x1="278.53" y1="239.5" x2="278.53" y2="277.80" stroke="#ececec" stroke-width="0.5"/><line x1="282.20" y1="239.5" x2="282.20" y2="277.80" stroke="#ececec" stroke-width="0.5"/><line x1="285.88" y1="239.5" x2="285.88" y2="271.00" stroke="#ececec" stroke-width="0.5"/><line x1="289.56" y1="239.5" x2="289.56" y2="243.50" stroke="#ececec" stroke-width="0.5"/><line x1="293.24" y1="239.5" x2="293.24" y2="260.80" stroke="#ececec" stroke-width="0.5"/><line x1="296.91" y1="239.5" x2="296.91" y2="277.80" stroke="#ececec" stroke-width="0.5"/><line x1="300.59" y1="239.5" x2="300.59" y2="277.80" stroke="#ececec" stroke-width="0.5"/><line x1="304.27" y1="239.5" x2="304.27" y2="277.80" stroke="#ececec" stroke-width="0.5"/><line x1="307.94" y1="239.5" x2="307.94" y2="243.50" stroke="#ececec" stroke-width="0.5"/><line x1="311.62" y1="239.5" x2="311.62" y2="276.00" stroke="#ececec" stroke-width="0.5"/><line x1="315.30" y1="239.5" x2="315.30" y2="277.80" stroke="#ececec" stroke-width="0.5"/><line x1="318.97" y1="239.5" x2="318.97" y2="277.80" stroke="#ececec" stroke-width="0.5"/><line x1="322.65" y1="239.5" x2="322.65" y2="277.80" stroke="#ececec" stroke-width="0.5"/><line x1="326.33" y1="239.5" x2="326.33" y2="277.80" stroke="#ececec" stroke-width="0.5"/><line x1="330.01" y1="239.5" x2="330.01" y2="277.80" stroke="#ececec" stroke-width="0.5"/><line x1="333.68" y1="239.5" x2="333.68" y2="277.80" stroke="#ececec" stroke-width="0.5"/><line x1="337.36" y1="239.5" x2="337.36" y2="277.80" stroke="#ececec" stroke-width="0.5"/><line x1="341.04" y1="239.5" x2="341.04" y2="255.00" stroke="#ececec" stroke-width="0.5"/><line x1="344.71" y1="239.5" x2="344.71" y2="277.80" stroke="#ececec" stroke-width="0.5"/><line x1="352.00" y1="239.5" x2="352.00" y2="276.70" stroke="#e8e8e8" stroke-width="0.6"/><line x1="359.50" y1="239.5" x2="359.50" y2="277.80" stroke="#e8e8e8" stroke-width="0.6"/><line x1="366.40" y1="239.5" x2="366.40" y2="277.80" stroke="#e8e8e8" stroke-width="0.6"/><line x1="373.80" y1="239.5" x2="373.80" y2="277.80" stroke="#e8e8e8" stroke-width="0.6"/><line x1="384.80" y1="239.5" x2="384.80" y2="277.80" stroke="#e8e8e8" stroke-width="0.6"/><line x1="392.50" y1="239.5" x2="392.50" y2="273.70" stroke="#e8e8e8" stroke-width="0.6"/><line x1="407.30" y1="239.5" x2="407.30" y2="276.70" stroke="#e8e8e8" stroke-width="0.6"/><line x1="421.90" y1="239.5" x2="421.90" y2="258.90" stroke="#e8e8e8" stroke-width="0.6"/><line x1="428.80" y1="239.5" x2="428.80" y2="277.80" stroke="#e8e8e8" stroke-width="0.6"/><line x1="432.70" y1="239.5" x2="432.70" y2="277.80" stroke="#e8e8e8" stroke-width="0.6"/><line x1="443.70" y1="239.5" x2="443.70" y2="277.80" stroke="#e8e8e8" stroke-width="0.6"/><line x1="451.20" y1="239.5" x2="451.20" y2="277.80" stroke="#e8e8e8" stroke-width="0.6"/><line x1="458.50" y1="239.5" x2="458.50" y2="259.00" stroke="#e8e8e8" stroke-width="0.6"/><line x1="465.80" y1="239.5" x2="465.80" y2="275.80" stroke="#e8e8e8" stroke-width="0.6"/><line x1="469.60" y1="239.5" x2="469.60" y2="277.80" stroke="#e8e8e8" stroke-width="0.6"/><line x1="491.50" y1="239.5" x2="491.50" y2="277.80" stroke="#e8e8e8" stroke-width="0.6"/><line x1="498.80" y1="239.5" x2="498.80" y2="277.80" stroke="#e8e8e8" stroke-width="0.6"/><line x1="43.20" y1="315.90" x2="43.20" y2="351.5" stroke="#ececec" stroke-width="0.5"/><line x1="46.88" y1="315.90" x2="46.88" y2="351.5" stroke="#ececec" stroke-width="0.5"/><line x1="50.55" y1="313.90" x2="50.55" y2="351.5" stroke="#ececec" stroke-width="0.5"/><line x1="54.23" y1="313.90" x2="54.23" y2="351.5" stroke="#ececec" stroke-width="0.5"/><line x1="57.91" y1="313.90" x2="57.91" y2="351.5" stroke="#ececec" stroke-width="0.5"/><line x1="61.59" y1="313.90" x2="61.59" y2="351.5" stroke="#ececec" stroke-width="0.5"/><line x1="65.26" y1="313.90" x2="65.26" y2="351.5" stroke="#ececec" stroke-width="0.5"/><line x1="68.94" y1="313.90" x2="68.94" y2="351.5" stroke="#ececec" stroke-width="0.5"/><line x1="72.62" y1="313.90" x2="72.62" y2="351.5" stroke="#ececec" stroke-width="0.5"/><line x1="76.29" y1="313.90" x2="76.29" y2="351.5" stroke="#ececec" stroke-width="0.5"/><line x1="79.97" y1="313.90" x2="79.97" y2="351.5" stroke="#ececec" stroke-width="0.5"/><line x1="83.65" y1="313.90" x2="83.65" y2="351.5" stroke="#ececec" stroke-width="0.5"/><line x1="87.32" y1="313.90" x2="87.32" y2="351.5" stroke="#ececec" stroke-width="0.5"/><line x1="91.00" y1="313.90" x2="91.00" y2="351.5" stroke="#ececec" stroke-width="0.5"/><line x1="94.68" y1="348.20" x2="94.68" y2="351.5" stroke="#ececec" stroke-width="0.5"/><line x1="98.36" y1="329.60" x2="98.36" y2="351.5" stroke="#ececec" stroke-width="0.5"/><line x1="102.03" y1="313.90" x2="102.03" y2="351.5" stroke="#ececec" stroke-width="0.5"/><line x1="105.71" y1="313.90" x2="105.71" y2="351.5" stroke="#ececec" stroke-width="0.5"/><line x1="109.39" y1="317.00" x2="109.39" y2="351.5" stroke="#ececec" stroke-width="0.5"/><line x1="113.06" y1="313.90" x2="113.06" y2="351.5" stroke="#ececec" stroke-width="0.5"/><line x1="116.74" y1="319.70" x2="116.74" y2="351.5" stroke="#ececec" stroke-width="0.5"/><line x1="120.42" y1="313.90" x2="120.42" y2="351.5" stroke="#ececec" stroke-width="0.5"/><line x1="124.09" y1="313.90" x2="124.09" y2="351.5" stroke="#ececec" stroke-width="0.5"/><line x1="127.77" y1="316.50" x2="127.77" y2="351.5" stroke="#ececec" stroke-width="0.5"/><line x1="131.45" y1="348.20" x2="131.45" y2="351.5" stroke="#ececec" stroke-width="0.5"/><line x1="135.12" y1="313.90" x2="135.12" y2="351.5" stroke="#ececec" stroke-width="0.5"/><line x1="138.80" y1="326.00" x2="138.80" y2="351.5" stroke="#ececec" stroke-width="0.5"/><line x1="142.48" y1="313.90" x2="142.48" y2="351.5" stroke="#ececec" stroke-width="0.5"/><line x1="146.16" y1="313.90" x2="146.16" y2="351.5" stroke="#ececec" stroke-width="0.5"/><line x1="149.83" y1="318.00" x2="149.83" y2="351.5" stroke="#ececec" stroke-width="0.5"/><line x1="153.51" y1="313.90" x2="153.51" y2="351.5" stroke="#ececec" stroke-width="0.5"/><line x1="157.19" y1="313.90" x2="157.19" y2="351.5" stroke="#ececec" stroke-width="0.5"/><line x1="160.86" y1="313.90" x2="160.86" y2="351.5" stroke="#ececec" stroke-width="0.5"/><line x1="164.54" y1="313.90" x2="164.54" y2="351.5" stroke="#ececec" stroke-width="0.5"/><line x1="168.22" y1="319.00" x2="168.22" y2="351.5" stroke="#ececec" stroke-width="0.5"/><line x1="171.89" y1="313.90" x2="171.89" y2="351.5" stroke="#ececec" stroke-width="0.5"/><line x1="175.57" y1="322.20" x2="175.57" y2="351.5" stroke="#ececec" stroke-width="0.5"/><line x1="179.25" y1="313.90" x2="179.25" y2="351.5" stroke="#ececec" stroke-width="0.5"/><line x1="182.93" y1="313.90" x2="182.93" y2="351.5" stroke="#ececec" stroke-width="0.5"/><line x1="186.60" y1="313.90" x2="186.60" y2="351.5" stroke="#ececec" stroke-width="0.5"/><line x1="190.28" y1="313.90" x2="190.28" y2="351.5" stroke="#ececec" stroke-width="0.5"/><line x1="193.96" y1="347.60" x2="193.96" y2="351.5" stroke="#ececec" stroke-width="0.5"/><line x1="197.63" y1="313.90" x2="197.63" y2="351.5" stroke="#ececec" stroke-width="0.5"/><line x1="201.31" y1="313.90" x2="201.31" y2="351.5" stroke="#ececec" stroke-width="0.5"/><line x1="204.99" y1="313.90" x2="204.99" y2="351.5" stroke="#ececec" stroke-width="0.5"/><line x1="208.67" y1="313.90" x2="208.67" y2="351.5" stroke="#ececec" stroke-width="0.5"/><line x1="212.34" y1="313.90" x2="212.34" y2="351.5" stroke="#ececec" stroke-width="0.5"/><line x1="216.02" y1="313.90" x2="216.02" y2="351.5" stroke="#ececec" stroke-width="0.5"/><line x1="219.70" y1="313.90" x2="219.70" y2="351.5" stroke="#ececec" stroke-width="0.5"/><line x1="223.37" y1="347.60" x2="223.37" y2="351.5" stroke="#ececec" stroke-width="0.5"/><line x1="227.05" y1="313.90" x2="227.05" y2="351.5" stroke="#ececec" stroke-width="0.5"/><line x1="230.73" y1="325.80" x2="230.73" y2="351.5" stroke="#ececec" stroke-width="0.5"/><line x1="234.40" y1="347.60" x2="234.40" y2="351.5" stroke="#ececec" stroke-width="0.5"/><line x1="238.08" y1="313.90" x2="238.08" y2="351.5" stroke="#ececec" stroke-width="0.5"/><line x1="241.76" y1="320.50" x2="241.76" y2="351.5" stroke="#ececec" stroke-width="0.5"/><line x1="245.44" y1="335.50" x2="245.44" y2="351.5" stroke="#ececec" stroke-width="0.5"/><line x1="249.11" y1="313.90" x2="249.11" y2="351.5" stroke="#ececec" stroke-width="0.5"/><line x1="252.79" y1="313.90" x2="252.79" y2="351.5" stroke="#ececec" stroke-width="0.5"/><line x1="256.47" y1="313.90" x2="256.47" y2="351.5" stroke="#ececec" stroke-width="0.5"/><line x1="260.14" y1="313.90" x2="260.14" y2="351.5" stroke="#ececec" stroke-width="0.5"/><line x1="263.82" y1="313.90" x2="263.82" y2="351.5" stroke="#ececec" stroke-width="0.5"/><line x1="267.50" y1="313.90" x2="267.50" y2="351.5" stroke="#ececec" stroke-width="0.5"/><line x1="271.17" y1="313.90" x2="271.17" y2="351.5" stroke="#ececec" stroke-width="0.5"/><line x1="274.85" y1="313.90" x2="274.85" y2="351.5" stroke="#ececec" stroke-width="0.5"/><line x1="278.53" y1="313.90" x2="278.53" y2="351.5" stroke="#ececec" stroke-width="0.5"/><line x1="282.20" y1="316.50" x2="282.20" y2="351.5" stroke="#ececec" stroke-width="0.5"/><line x1="285.88" y1="348.70" x2="285.88" y2="351.5" stroke="#ececec" stroke-width="0.5"/><line x1="289.56" y1="313.90" x2="289.56" y2="351.5" stroke="#ececec" stroke-width="0.5"/><line x1="293.24" y1="313.90" x2="293.24" y2="351.5" stroke="#ececec" stroke-width="0.5"/><line x1="296.91" y1="322.20" x2="296.91" y2="351.5" stroke="#ececec" stroke-width="0.5"/><line x1="300.59" y1="313.90" x2="300.59" y2="351.5" stroke="#ececec" stroke-width="0.5"/><line x1="304.27" y1="313.90" x2="304.27" y2="351.5" stroke="#ececec" stroke-width="0.5"/><line x1="307.94" y1="313.90" x2="307.94" y2="351.5" stroke="#ececec" stroke-width="0.5"/><line x1="311.62" y1="313.90" x2="311.62" y2="351.5" stroke="#ececec" stroke-width="0.5"/><line x1="315.30" y1="313.90" x2="315.30" y2="351.5" stroke="#ececec" stroke-width="0.5"/><line x1="318.97" y1="313.90" x2="318.97" y2="351.5" stroke="#ececec" stroke-width="0.5"/><line x1="322.65" y1="313.90" x2="322.65" y2="351.5" stroke="#ececec" stroke-width="0.5"/><line x1="326.33" y1="313.90" x2="326.33" y2="351.5" stroke="#ececec" stroke-width="0.5"/><line x1="330.01" y1="313.90" x2="330.01" y2="351.5" stroke="#ececec" stroke-width="0.5"/><line x1="333.68" y1="313.90" x2="333.68" y2="351.5" stroke="#ececec" stroke-width="0.5"/><line x1="337.36" y1="313.90" x2="337.36" y2="351.5" stroke="#ececec" stroke-width="0.5"/><line x1="341.04" y1="313.90" x2="341.04" y2="351.5" stroke="#ececec" stroke-width="0.5"/><line x1="344.71" y1="313.90" x2="344.71" y2="351.5" stroke="#ececec" stroke-width="0.5"/><line x1="348.39" y1="313.90" x2="348.39" y2="351.5" stroke="#ececec" stroke-width="0.5"/><line x1="352.07" y1="313.90" x2="352.07" y2="351.5" stroke="#ececec" stroke-width="0.5"/><line x1="355.75" y1="313.90" x2="355.75" y2="351.5" stroke="#ececec" stroke-width="0.5"/><line x1="359.42" y1="313.90" x2="359.42" y2="351.5" stroke="#ececec" stroke-width="0.5"/><line x1="363.10" y1="313.90" x2="363.10" y2="351.5" stroke="#ececec" stroke-width="0.5"/><line x1="366.78" y1="313.90" x2="366.78" y2="351.5" stroke="#ececec" stroke-width="0.5"/><line x1="370.45" y1="313.90" x2="370.45" y2="351.5" stroke="#ececec" stroke-width="0.5"/><line x1="374.13" y1="315.70" x2="374.13" y2="351.5" stroke="#ececec" stroke-width="0.5"/><line x1="377.81" y1="313.90" x2="377.81" y2="351.5" stroke="#ececec" stroke-width="0.5"/><line x1="381.48" y1="313.90" x2="381.48" y2="351.5" stroke="#ececec" stroke-width="0.5"/><line x1="385.16" y1="313.90" x2="385.16" y2="351.5" stroke="#ececec" stroke-width="0.5"/><line x1="388.84" y1="313.90" x2="388.84" y2="351.5" stroke="#ececec" stroke-width="0.5"/><line x1="392.51" y1="316.00" x2="392.51" y2="351.5" stroke="#ececec" stroke-width="0.5"/><line x1="396.19" y1="313.90" x2="396.19" y2="351.5" stroke="#ececec" stroke-width="0.5"/><line x1="399.87" y1="313.90" x2="399.87" y2="351.5" stroke="#ececec" stroke-width="0.5"/><line x1="403.55" y1="313.90" x2="403.55" y2="351.5" stroke="#ececec" stroke-width="0.5"/><line x1="407.22" y1="313.90" x2="407.22" y2="351.5" stroke="#ececec" stroke-width="0.5"/><line x1="410.90" y1="313.90" x2="410.90" y2="351.5" stroke="#ececec" stroke-width="0.5"/><line x1="414.58" y1="313.90" x2="414.58" y2="351.5" stroke="#ececec" stroke-width="0.5"/><line x1="418.25" y1="313.90" x2="418.25" y2="351.5" stroke="#ececec" stroke-width="0.5"/><line x1="421.93" y1="313.90" x2="421.93" y2="351.5" stroke="#ececec" stroke-width="0.5"/><line x1="425.61" y1="326.70" x2="425.61" y2="351.5" stroke="#ececec" stroke-width="0.5"/><line x1="429.28" y1="313.90" x2="429.28" y2="351.5" stroke="#ececec" stroke-width="0.5"/><line x1="432.96" y1="316.00" x2="432.96" y2="351.5" stroke="#ececec" stroke-width="0.5"/><line x1="436.64" y1="329.00" x2="436.64" y2="351.5" stroke="#ececec" stroke-width="0.5"/><line x1="440.32" y1="322.50" x2="440.32" y2="351.5" stroke="#ececec" stroke-width="0.5"/><line x1="443.99" y1="313.90" x2="443.99" y2="351.5" stroke="#ececec" stroke-width="0.5"/><line x1="454.60" y1="314.00" x2="454.60" y2="351.5" stroke="#e8e8e8" stroke-width="0.6"/><line x1="458.50" y1="315.00" x2="458.50" y2="351.5" stroke="#e8e8e8" stroke-width="0.6"/><line x1="465.80" y1="314.00" x2="465.80" y2="351.5" stroke="#e8e8e8" stroke-width="0.6"/><line x1="473.30" y1="318.50" x2="473.30" y2="351.5" stroke="#e8e8e8" stroke-width="0.6"/><line x1="476.70" y1="314.00" x2="476.70" y2="351.5" stroke="#e8e8e8" stroke-width="0.6"/><line x1="491.50" y1="314.00" x2="491.50" y2="351.5" stroke="#e8e8e8" stroke-width="0.6"/><line x1="498.80" y1="314.00" x2="498.80" y2="351.5" stroke="#e8e8e8" stroke-width="0.6"/></g>
<rect x="45.6" y="291.2" width="458.4" height="12.6" fill="#c8c8cc"/>
<rect x="108.00" y="291.2" width="25.90" height="12.60" fill="#8fac99"/>
<rect x="178.00" y="291.2" width="20.80" height="12.60" fill="#c4d39a"/>
<rect x="201.20" y="289.2" width="135.30" height="15.40" fill="#8f82c9"/>
<rect x="345.40" y="289.2" width="117.90" height="15.40" fill="#8fac99"/>
<text x="111.80" y="296.80" font-size="6.3" fill="#2f3d35" text-anchor="start" textLength="17.80" lengthAdjust="spacingAndGlyphs">Coiled</text>
<text x="115.70" y="302.10" font-size="6.3" fill="#2f3d35" text-anchor="start" textLength="10.50" lengthAdjust="spacingAndGlyphs">coil</text>
<text x="188.10" y="296.50" font-size="6.3" fill="#3a4a12" text-anchor="middle">Q</text>
<text x="181.00" y="302.20" font-size="6.3" fill="#3a4a12" text-anchor="start" textLength="15.00" lengthAdjust="spacingAndGlyphs">motif</text>
<text x="253.80" y="299.40" font-size="6.6" fill="#2b2750" text-anchor="start" textLength="30.60" lengthAdjust="spacingAndGlyphs">DEAD box</text>
<text x="392.30" y="299.50" font-size="6.5" fill="#243a2d" text-anchor="start" textLength="23.50" lengthAdjust="spacingAndGlyphs">Helicase</text>
<text x="473.00" y="297.00" font-size="6.2" fill="#46541a" text-anchor="start" textLength="12.50" lengthAdjust="spacingAndGlyphs" stroke="#c2d49a" stroke-width="1.2" paint-order="stroke">Zinc</text>
<text x="471.00" y="302.30" font-size="6.2" fill="#46541a" text-anchor="start" textLength="16.00" lengthAdjust="spacingAndGlyphs" stroke="#c2d49a" stroke-width="1.2" paint-order="stroke">finger</text>
<g><line x1="46.60" y1="284" x2="46.60" y2="291.3" stroke="#9c9ca0" stroke-width="1.1"/><line x1="49.60" y1="284" x2="49.60" y2="291.3" stroke="#9c9ca0" stroke-width="1.1"/><line x1="52.60" y1="284" x2="52.60" y2="291.3" stroke="#9c9ca0" stroke-width="1.1"/><line x1="55.60" y1="284" x2="55.60" y2="291.3" stroke="#9c9ca0" stroke-width="1.1"/><line x1="58.60" y1="284" x2="58.60" y2="291.3" stroke="#9c9ca0" stroke-width="1.1"/><line x1="61.60" y1="284" x2="61.60" y2="291.3" stroke="#9c9ca0" stroke-width="1.1"/><line x1="64.60" y1="284" x2="64.60" y2="291.3" stroke="#9c9ca0" stroke-width="1.1"/><line x1="67.60" y1="284" x2="67.60" y2="291.3" stroke="#9c9ca0" stroke-width="1.1"/><line x1="70.60" y1="284" x2="70.60" y2="291.3" stroke="#9c9ca0" stroke-width="1.1"/><line x1="73.60" y1="284" x2="73.60" y2="291.3" stroke="#9c9ca0" stroke-width="1.1"/><line x1="76.60" y1="284" x2="76.60" y2="291.3" stroke="#9c9ca0" stroke-width="1.1"/><line x1="79.60" y1="284" x2="79.60" y2="291.3" stroke="#9c9ca0" stroke-width="1.1"/><line x1="82.60" y1="284" x2="82.60" y2="291.3" stroke="#9c9ca0" stroke-width="1.1"/><line x1="85.60" y1="284" x2="85.60" y2="291.3" stroke="#9c9ca0" stroke-width="1.1"/><line x1="88.60" y1="284" x2="88.60" y2="291.3" stroke="#9c9ca0" stroke-width="1.1"/><line x1="96.08" y1="284" x2="96.08" y2="291.3" stroke="#9c9ca0" stroke-width="1.1"/><line x1="101.06" y1="284" x2="101.06" y2="291.3" stroke="#9c9ca0" stroke-width="1.1"/><line x1="107.66" y1="284" x2="107.66" y2="291.3" stroke="#9c9ca0" stroke-width="1.1"/><line x1="111.67" y1="284" x2="111.67" y2="291.3" stroke="#9c9ca0" stroke-width="1.1"/><line x1="118.19" y1="284" x2="118.19" y2="291.3" stroke="#9c9ca0" stroke-width="1.1"/><line x1="123.18" y1="284" x2="123.18" y2="291.3" stroke="#9c9ca0" stroke-width="1.1"/><line x1="127.84" y1="284" x2="127.84" y2="291.3" stroke="#9c9ca0" stroke-width="1.1"/><line x1="134.32" y1="284" x2="134.32" y2="291.3" stroke="#9c9ca0" stroke-width="1.1"/><line x1="138.59" y1="284" x2="138.59" y2="291.3" stroke="#9c9ca0" stroke-width="1.1"/><line x1="144.94" y1="284" x2="144.94" y2="291.3" stroke="#9c9ca0" stroke-width="1.1"/><line x1="149.47" y1="284" x2="149.47" y2="291.3" stroke="#9c9ca0" stroke-width="1.1"/><line x1="154.92" y1="284" x2="154.92" y2="291.3" stroke="#9c9ca0" stroke-width="1.1"/><line x1="161.12" y1="284" x2="161.12" y2="291.3" stroke="#9c9ca0" stroke-width="1.1"/><line x1="167.48" y1="284" x2="167.48" y2="291.3" stroke="#9c9ca0" stroke-width="1.1"/><line x1="171.20" y1="284" x2="171.20" y2="291.3" stroke="#9c9ca0" stroke-width="1.1"/><line x1="176.84" y1="284" x2="176.84" y2="291.3" stroke="#9c9ca0" stroke-width="1.1"/><line x1="183.21" y1="284" x2="183.21" y2="291.3" stroke="#9c9ca0" stroke-width="1.1"/><line x1="189.37" y1="284" x2="189.37" y2="291.3" stroke="#9c9ca0" stroke-width="1.1"/><line x1="193.89" y1="284" x2="193.89" y2="291.3" stroke="#9c9ca0" stroke-width="1.1"/><line x1="198.85" y1="284" x2="198.85" y2="291.3" stroke="#9c9ca0" stroke-width="1.1"/><line x1="205.64" y1="284" x2="205.64" y2="291.3" stroke="#9c9ca0" stroke-width="1.1"/><line x1="208.81" y1="284" x2="208.81" y2="291.3" stroke="#9c9ca0" stroke-width="1.1"/><line x1="216.16" y1="284" x2="216.16" y2="291.3" stroke="#9c9ca0" stroke-width="1.1"/><line x1="220.20" y1="284" x2="220.20" y2="291.3" stroke="#9c9ca0" stroke-width="1.1"/><line x1="225.25" y1="284" x2="225.25" y2="291.3" stroke="#9c9ca0" stroke-width="1.1"/><line x1="230.58" y1="284" x2="230.58" y2="291.3" stroke="#9c9ca0" stroke-width="1.1"/><line x1="236.44" y1="284" x2="236.44" y2="291.3" stroke="#9c9ca0" stroke-width="1.1"/><line x1="243.06" y1="284" x2="243.06" y2="291.3" stroke="#9c9ca0" stroke-width="1.1"/><line x1="246.93" y1="284" x2="246.93" y2="291.3" stroke="#9c9ca0" stroke-width="1.1"/><line x1="253.30" y1="284" x2="253.30" y2="291.3" stroke="#9c9ca0" stroke-width="1.1"/><line x1="258.83" y1="284" x2="258.83" y2="291.3" stroke="#9c9ca0" stroke-width="1.1"/><line x1="263.59" y1="284" x2="263.59" y2="291.3" stroke="#9c9ca0" stroke-width="1.1"/><line x1="269.41" y1="284" x2="269.41" y2="291.3" stroke="#9c9ca0" stroke-width="1.1"/><line x1="273.65" y1="284" x2="273.65" y2="291.3" stroke="#9c9ca0" stroke-width="1.1"/><line x1="279.04" y1="284" x2="279.04" y2="291.3" stroke="#9c9ca0" stroke-width="1.1"/><line x1="284.79" y1="284" x2="284.79" y2="291.3" stroke="#9c9ca0" stroke-width="1.1"/><line x1="291.33" y1="284" x2="291.33" y2="291.3" stroke="#9c9ca0" stroke-width="1.1"/><line x1="296.13" y1="284" x2="296.13" y2="291.3" stroke="#9c9ca0" stroke-width="1.1"/><line x1="301.25" y1="284" x2="301.25" y2="291.3" stroke="#9c9ca0" stroke-width="1.1"/><line x1="307.31" y1="284" x2="307.31" y2="291.3" stroke="#9c9ca0" stroke-width="1.1"/><line x1="312.39" y1="284" x2="312.39" y2="291.3" stroke="#9c9ca0" stroke-width="1.1"/><line x1="317.42" y1="284" x2="317.42" y2="291.3" stroke="#9c9ca0" stroke-width="1.1"/><line x1="324.01" y1="284" x2="324.01" y2="291.3" stroke="#9c9ca0" stroke-width="1.1"/><line x1="329.18" y1="284" x2="329.18" y2="291.3" stroke="#9c9ca0" stroke-width="1.1"/><line x1="333.49" y1="284" x2="333.49" y2="291.3" stroke="#9c9ca0" stroke-width="1.1"/></g>
<path d="M46.88,280.2 L47.50,283.6 M50.55,280.2 L50.55,283.6 M54.23,280.2 L53.60,283.6 M57.91,280.2 L56.65,283.6 M61.59,280.2 L59.70,283.6 M65.26,280.2 L62.75,283.6 M68.94,280.2 L65.80,283.6 M72.62,280.2 L68.85,283.6 M76.29,280.2 L71.90,283.6 M79.97,280.2 L74.95,283.6 M83.65,280.2 L78.00,283.6 M87.32,280.2 L81.05,283.6 M91.00,280.2 L84.10,283.6 M94.68,280.2 L87.15,283.6 M98.36,280.2 L90.20,283.6 M102.03,280.2 L93.25,283.6 M105.71,280.2 L96.30,283.6 M109.39,280.2 L99.35,283.6 M113.06,280.2 L102.40,283.6 M116.74,280.2 L105.45,283.6 M120.42,280.2 L108.50,283.6 M124.09,280.2 L111.55,283.6 M127.77,280.2 L114.60,283.6 M131.45,280.2 L117.65,283.6 M135.12,280.2 L120.70,283.6 M138.80,280.2 L123.75,283.6 M142.48,280.2 L126.80,283.6 M146.16,280.2 L129.85,283.6 M149.83,280.2 L132.90,283.6 M153.51,280.2 L135.95,283.6 M157.19,280.2 L155.50,283.6 M160.86,280.2 L158.60,283.6 M164.54,280.2 L161.70,283.6 M168.22,280.2 L164.80,283.6 M171.89,280.2 L167.90,283.6 M175.57,280.2 L171.00,283.6 M179.25,280.2 L174.10,283.6 M182.93,280.2 L177.20,283.6 M186.60,280.2 L180.30,283.6 M190.28,280.2 L183.40,283.6 M193.96,280.2 L186.50,283.6 M197.63,280.2 L189.60,283.6 M201.31,280.2 L192.70,283.6 M204.99,280.2 L195.80,283.6 M208.67,280.2 L198.90,283.6 M212.34,280.2 L202.00,283.6 M216.02,280.2 L213.00,283.6 M219.70,280.2 L216.40,283.6 M223.37,280.2 L219.80,283.6 M227.05,280.2 L223.20,283.6 M230.73,280.2 L226.60,283.6 M234.40,280.2 L230.00,283.6 M238.08,280.2 L233.40,283.6 M241.76,280.2 L236.80,283.6 M245.44,280.2 L240.20,283.6 M249.11,280.2 L243.60,283.6 M252.79,280.2 L247.00,283.6 M256.47,280.2 L250.40,283.6 M260.14,280.2 L253.80,283.6 M263.82,280.2 L257.20,283.6 M267.50,280.2 L260.60,283.6 M271.17,280.2 L264.00,283.6 M274.85,280.2 L267.40,283.6 M278.53,280.2 L270.80,283.6 M282.20,280.2 L274.20,283.6 M285.88,280.2 L277.60,283.6 M289.56,280.2 L281.00,283.6 M293.24,280.2 L288.50,283.6 M296.91,280.2 L291.70,283.6 M300.59,280.2 L294.90,283.6 M304.27,280.2 L298.10,283.6 M307.94,280.2 L301.30,283.6 M311.62,280.2 L304.50,283.6 M315.30,280.2 L307.70,283.6 M318.97,280.2 L310.90,283.6 M322.65,280.2 L314.10,283.6 M326.33,280.2 L317.30,283.6 M330.01,280.2 L320.50,283.6 M333.68,280.2 L323.70,283.6 M337.36,280.2 L326.90,283.6 M341.04,280.2 L330.10,283.6 M344.71,280.2 L333.30,283.6" fill="none" stroke="#555" stroke-width="0.45"/>
<polygon points="48.6,283.9 60.0,283.2 75.0,282.4 95.0,281.8 120.0,281.4 145.0,281.3 157.0,281.7 157.0,282.7 145.0,283.3 120.0,283.8 95.0,284.1 75.0,284.4 60.0,284.6 48.6,284.8" fill="#111"/>
<polygon points="155.0,282.4 200.0,282.0 215.0,282.2 260.0,282.5 300.0,282.4 338.0,281.9 338.0,283.0 300.0,283.6 260.0,283.7 215.0,283.5 200.0,283.4 155.0,283.5" fill="#2a2a2a"/>
<path d="M43.20,279.8 L47.3,284.6 M46.88,279.8 L47.3,284.6 L47.3,291.3" fill="none" stroke="#555" stroke-width="0.7"/>
<path d="M337.3,279.8 L335.2,284.5 L335.2,289.3 M341.1,257 L341.1,283 L339.8,289.3 M344.7,279.8 L346.2,285.5 L346.2,289.3" fill="none" stroke="#666" stroke-width="0.7"/>
<path d="M352.00,278.20 L352.00,283.2 L350.30,286.8 L350.30,289.3 M359.50,279.30 L359.50,283.2 L359.50,286.8 L359.50,289.3 M366.40,279.30 L366.40,283.2 L365.60,286.8 L365.60,289.3 M373.80,279.30 L373.80,283.2 L373.00,286.8 L373.00,289.3 M384.80,279.30 L384.80,283.2 L383.50,286.8 L383.50,289.3 M392.50,275.20 L392.50,283.2 L390.60,286.8 L390.60,289.3 M407.30,278.20 L407.30,283.2 L407.00,286.8 L407.00,289.3 M421.90,260.40 L421.90,283.2 L421.50,286.8 L421.50,289.3 M428.80,279.30 L428.80,283.2 L427.50,286.8 L427.50,289.3 M432.70,279.30 L432.70,283.2 L434.50,286.8 L434.50,289.3 M443.70,279.30 L443.70,283.2 L442.00,286.8 L442.00,289.3 M451.20,279.30 L451.20,283.2 L450.00,286.8 L450.00,289.3 M458.50,260.50 L458.50,283.2 L458.50,286.8 L458.50,289.3 M465.80,277.30 L465.80,283.2 L464.30,286.8 L464.30,289.3 M469.60,279.30 L469.60,283.2 L471.20,286.8 L471.20,289.3 M491.50,279.30 L491.50,283.2 L495.20,286.8 L495.20,289.3 M498.80,279.30 L498.80,283.2 L495.20,286.8 L495.20,289.3" fill="none" stroke="#666" stroke-width="0.7"/>
<g><line x1="46.40" y1="303.6" x2="46.40" y2="306.6" stroke="#a4a4a8" stroke-width="0.8"/><line x1="49.40" y1="303.6" x2="49.40" y2="306.6" stroke="#a4a4a8" stroke-width="0.8"/><line x1="52.40" y1="303.6" x2="52.40" y2="306.6" stroke="#a4a4a8" stroke-width="0.8"/><line x1="55.40" y1="303.6" x2="55.40" y2="306.6" stroke="#a4a4a8" stroke-width="0.8"/><line x1="58.40" y1="303.6" x2="58.40" y2="306.6" stroke="#a4a4a8" stroke-width="0.8"/><line x1="61.40" y1="303.6" x2="61.40" y2="306.6" stroke="#a4a4a8" stroke-width="0.8"/><line x1="64.40" y1="303.6" x2="64.40" y2="306.6" stroke="#a4a4a8" stroke-width="0.8"/><line x1="67.40" y1="303.6" x2="67.40" y2="306.6" stroke="#a4a4a8" stroke-width="0.8"/><line x1="70.40" y1="303.6" x2="70.40" y2="306.6" stroke="#a4a4a8" stroke-width="0.8"/><line x1="73.40" y1="303.6" x2="73.40" y2="306.6" stroke="#a4a4a8" stroke-width="0.8"/><line x1="76.40" y1="303.6" x2="76.40" y2="306.6" stroke="#a4a4a8" stroke-width="0.8"/><line x1="79.40" y1="303.6" x2="79.40" y2="306.6" stroke="#a4a4a8" stroke-width="0.8"/><line x1="82.40" y1="303.6" x2="82.40" y2="306.6" stroke="#a4a4a8" stroke-width="0.8"/><line x1="85.40" y1="303.6" x2="85.40" y2="306.6" stroke="#a4a4a8" stroke-width="0.8"/><line x1="88.40" y1="303.6" x2="88.40" y2="306.6" stroke="#a4a4a8" stroke-width="0.8"/><line x1="91.40" y1="303.6" x2="91.40" y2="306.6" stroke="#a4a4a8" stroke-width="0.8"/><line x1="94.40" y1="303.6" x2="94.40" y2="306.6" stroke="#a4a4a8" stroke-width="0.8"/><line x1="97.40" y1="303.6" x2="97.40" y2="306.6" stroke="#a4a4a8" stroke-width="0.8"/><line x1="100.40" y1="303.6" x2="100.40" y2="306.6" stroke="#a4a4a8" stroke-width="0.8"/><line x1="103.40" y1="303.6" x2="103.40" y2="306.6" stroke="#a4a4a8" stroke-width="0.8"/><line x1="106.40" y1="303.6" x2="106.40" y2="306.6" stroke="#a4a4a8" stroke-width="0.8"/><line x1="109.40" y1="303.6" x2="109.40" y2="306.6" stroke="#a4a4a8" stroke-width="0.8"/><line x1="112.40" y1="303.6" x2="112.40" y2="306.6" stroke="#a4a4a8" stroke-width="0.8"/><line x1="115.40" y1="303.6" x2="115.40" y2="306.6" stroke="#a4a4a8" stroke-width="0.8"/><line x1="118.40" y1="303.6" x2="118.40" y2="306.6" stroke="#a4a4a8" stroke-width="0.8"/><line x1="121.40" y1="303.6" x2="121.40" y2="306.6" stroke="#a4a4a8" stroke-width="0.8"/><line x1="124.40" y1="303.6" x2="124.40" y2="306.6" stroke="#a4a4a8" stroke-width="0.8"/><line x1="127.40" y1="303.6" x2="127.40" y2="306.6" stroke="#a4a4a8" stroke-width="0.8"/><line x1="130.40" y1="303.6" x2="130.40" y2="306.6" stroke="#a4a4a8" stroke-width="0.8"/><line x1="133.40" y1="303.6" x2="133.40" y2="306.6" stroke="#a4a4a8" stroke-width="0.8"/><line x1="136.40" y1="303.6" x2="136.40" y2="306.6" stroke="#a4a4a8" stroke-width="0.8"/><line x1="139.40" y1="303.6" x2="139.40" y2="306.6" stroke="#a4a4a8" stroke-width="0.8"/><line x1="142.40" y1="303.6" x2="142.40" y2="306.6" stroke="#a4a4a8" stroke-width="0.8"/><line x1="145.40" y1="303.6" x2="145.40" y2="306.6" stroke="#a4a4a8" stroke-width="0.8"/><line x1="148.40" y1="303.6" x2="148.40" y2="306.6" stroke="#a4a4a8" stroke-width="0.8"/><line x1="151.40" y1="303.6" x2="151.40" y2="306.6" stroke="#a4a4a8" stroke-width="0.8"/><line x1="154.40" y1="303.6" x2="154.40" y2="306.6" stroke="#a4a4a8" stroke-width="0.8"/><line x1="157.40" y1="303.6" x2="157.40" y2="306.6" stroke="#a4a4a8" stroke-width="0.8"/><line x1="160.40" y1="303.6" x2="160.40" y2="306.6" stroke="#a4a4a8" stroke-width="0.8"/><line x1="163.40" y1="303.6" x2="163.40" y2="306.6" stroke="#a4a4a8" stroke-width="0.8"/><line x1="166.40" y1="303.6" x2="166.40" y2="306.6" stroke="#a4a4a8" stroke-width="0.8"/><line x1="169.40" y1="303.6" x2="169.40" y2="306.6" stroke="#a4a4a8" stroke-width="0.8"/><line x1="172.40" y1="303.6" x2="172.40" y2="306.6" stroke="#a4a4a8" stroke-width="0.8"/><line x1="175.40" y1="303.6" x2="175.40" y2="306.6" stroke="#a4a4a8" stroke-width="0.8"/><line x1="178.40" y1="303.6" x2="178.40" y2="306.6" stroke="#a4a4a8" stroke-width="0.8"/><line x1="181.40" y1="303.6" x2="181.40" y2="306.6" stroke="#a4a4a8" stroke-width="0.8"/><line x1="184.40" y1="303.6" x2="184.40" y2="306.6" stroke="#a4a4a8" stroke-width="0.8"/><line x1="187.40" y1="303.6" x2="187.40" y2="306.6" stroke="#a4a4a8" stroke-width="0.8"/><line x1="190.40" y1="303.6" x2="190.40" y2="306.6" stroke="#a4a4a8" stroke-width="0.8"/><line x1="193.40" y1="303.6" x2="193.40" y2="306.6" stroke="#a4a4a8" stroke-width="0.8"/><line x1="196.40" y1="303.6" x2="196.40" y2="306.6" stroke="#a4a4a8" stroke-width="0.8"/><line x1="199.40" y1="303.6" x2="199.40" y2="306.6" stroke="#a4a4a8" stroke-width="0.8"/><line x1="202.40" y1="303.6" x2="202.40" y2="306.6" stroke="#a4a4a8" stroke-width="0.8"/><line x1="205.40" y1="303.6" x2="205.40" y2="306.6" stroke="#a4a4a8" stroke-width="0.8"/><line x1="208.40" y1="303.6" x2="208.40" y2="306.6" stroke="#a4a4a8" stroke-width="0.8"/><line x1="211.40" y1="303.6" x2="211.40" y2="306.6" stroke="#a4a4a8" stroke-width="0.8"/><line x1="214.40" y1="303.6" x2="214.40" y2="306.6" stroke="#a4a4a8" stroke-width="0.8"/><line x1="217.40" y1="303.6" x2="217.40" y2="306.6" stroke="#a4a4a8" stroke-width="0.8"/><line x1="220.40" y1="303.6" x2="220.40" y2="306.6" stroke="#a4a4a8" stroke-width="0.8"/><line x1="223.40" y1="303.6" x2="223.40" y2="306.6" stroke="#a4a4a8" stroke-width="0.8"/><line x1="226.40" y1="303.6" x2="226.40" y2="306.6" stroke="#a4a4a8" stroke-width="0.8"/><line x1="229.40" y1="303.6" x2="229.40" y2="306.6" stroke="#a4a4a8" stroke-width="0.8"/><line x1="232.40" y1="303.6" x2="232.40" y2="306.6" stroke="#a4a4a8" stroke-width="0.8"/><line x1="235.40" y1="303.6" x2="235.40" y2="306.6" stroke="#a4a4a8" stroke-width="0.8"/><line x1="238.40" y1="303.6" x2="238.40" y2="306.6" stroke="#a4a4a8" stroke-width="0.8"/><line x1="241.40" y1="303.6" x2="241.40" y2="306.6" stroke="#a4a4a8" stroke-width="0.8"/><line x1="244.40" y1="303.6" x2="244.40" y2="306.6" stroke="#a4a4a8" stroke-width="0.8"/><line x1="247.40" y1="303.6" x2="247.40" y2="306.6" stroke="#a4a4a8" stroke-width="0.8"/><line x1="250.40" y1="303.6" x2="250.40" y2="306.6" stroke="#a4a4a8" stroke-width="0.8"/><line x1="253.40" y1="303.6" x2="253.40" y2="306.6" stroke="#a4a4a8" stroke-width="0.8"/><line x1="256.40" y1="303.6" x2="256.40" y2="306.6" stroke="#a4a4a8" stroke-width="0.8"/><line x1="259.40" y1="303.6" x2="259.40" y2="306.6" stroke="#a4a4a8" stroke-width="0.8"/><line x1="262.40" y1="303.6" x2="262.40" y2="306.6" stroke="#a4a4a8" stroke-width="0.8"/><line x1="265.40" y1="303.6" x2="265.40" y2="306.6" stroke="#a4a4a8" stroke-width="0.8"/><line x1="268.40" y1="303.6" x2="268.40" y2="306.6" stroke="#a4a4a8" stroke-width="0.8"/><line x1="271.40" y1="303.6" x2="271.40" y2="306.6" stroke="#a4a4a8" stroke-width="0.8"/><line x1="274.40" y1="303.6" x2="274.40" y2="306.6" stroke="#a4a4a8" stroke-width="0.8"/><line x1="277.40" y1="303.6" x2="277.40" y2="306.6" stroke="#a4a4a8" stroke-width="0.8"/><line x1="280.40" y1="303.6" x2="280.40" y2="306.6" stroke="#a4a4a8" stroke-width="0.8"/><line x1="283.40" y1="303.6" x2="283.40" y2="306.6" stroke="#a4a4a8" stroke-width="0.8"/><line x1="286.40" y1="303.6" x2="286.40" y2="306.6" stroke="#a4a4a8" stroke-width="0.8"/><line x1="289.40" y1="303.6" x2="289.40" y2="306.6" stroke="#a4a4a8" stroke-width="0.8"/><line x1="292.40" y1="303.6" x2="292.40" y2="306.6" stroke="#a4a4a8" stroke-width="0.8"/><line x1="295.40" y1="303.6" x2="295.40" y2="306.6" stroke="#a4a4a8" stroke-width="0.8"/><line x1="298.40" y1="303.6" x2="298.40" y2="306.6" stroke="#a4a4a8" stroke-width="0.8"/><line x1="301.40" y1="303.6" x2="301.40" y2="306.6" stroke="#a4a4a8" stroke-width="0.8"/><line x1="304.40" y1="303.6" x2="304.40" y2="306.6" stroke="#a4a4a8" stroke-width="0.8"/><line x1="307.40" y1="303.6" x2="307.40" y2="306.6" stroke="#a4a4a8" stroke-width="0.8"/><line x1="310.40" y1="303.6" x2="310.40" y2="306.6" stroke="#a4a4a8" stroke-width="0.8"/><line x1="313.40" y1="303.6" x2="313.40" y2="306.6" stroke="#a4a4a8" stroke-width="0.8"/><line x1="316.40" y1="303.6" x2="316.40" y2="306.6" stroke="#a4a4a8" stroke-width="0.8"/><line x1="319.40" y1="303.6" x2="319.40" y2="306.6" stroke="#a4a4a8" stroke-width="0.8"/><line x1="322.40" y1="303.6" x2="322.40" y2="306.6" stroke="#a4a4a8" stroke-width="0.8"/><line x1="325.40" y1="303.6" x2="325.40" y2="306.6" stroke="#a4a4a8" stroke-width="0.8"/><line x1="328.40" y1="303.6" x2="328.40" y2="306.6" stroke="#a4a4a8" stroke-width="0.8"/><line x1="331.40" y1="303.6" x2="331.40" y2="306.6" stroke="#a4a4a8" stroke-width="0.8"/><line x1="334.40" y1="303.6" x2="334.40" y2="306.6" stroke="#a4a4a8" stroke-width="0.8"/><line x1="337.40" y1="303.6" x2="337.40" y2="306.6" stroke="#a4a4a8" stroke-width="0.8"/><line x1="340.40" y1="303.6" x2="340.40" y2="306.6" stroke="#a4a4a8" stroke-width="0.8"/><line x1="343.40" y1="303.6" x2="343.40" y2="306.6" stroke="#a4a4a8" stroke-width="0.8"/><line x1="346.40" y1="303.6" x2="346.40" y2="306.6" stroke="#a4a4a8" stroke-width="0.8"/><line x1="349.40" y1="303.6" x2="349.40" y2="306.6" stroke="#a4a4a8" stroke-width="0.8"/><line x1="352.40" y1="303.6" x2="352.40" y2="306.6" stroke="#a4a4a8" stroke-width="0.8"/><line x1="355.40" y1="303.6" x2="355.40" y2="306.6" stroke="#a4a4a8" stroke-width="0.8"/><line x1="358.40" y1="303.6" x2="358.40" y2="306.6" stroke="#a4a4a8" stroke-width="0.8"/><line x1="361.40" y1="303.6" x2="361.40" y2="306.6" stroke="#a4a4a8" stroke-width="0.8"/><line x1="364.40" y1="303.6" x2="364.40" y2="306.6" stroke="#a4a4a8" stroke-width="0.8"/><line x1="367.40" y1="303.6" x2="367.40" y2="306.6" stroke="#a4a4a8" stroke-width="0.8"/><line x1="370.40" y1="303.6" x2="370.40" y2="306.6" stroke="#a4a4a8" stroke-width="0.8"/><line x1="373.40" y1="303.6" x2="373.40" y2="306.6" stroke="#a4a4a8" stroke-width="0.8"/><line x1="376.40" y1="303.6" x2="376.40" y2="306.6" stroke="#a4a4a8" stroke-width="0.8"/><line x1="379.40" y1="303.6" x2="379.40" y2="306.6" stroke="#a4a4a8" stroke-width="0.8"/><line x1="382.40" y1="303.6" x2="382.40" y2="306.6" stroke="#a4a4a8" stroke-width="0.8"/><line x1="385.40" y1="303.6" x2="385.40" y2="306.6" stroke="#a4a4a8" stroke-width="0.8"/><line x1="388.40" y1="303.6" x2="388.40" y2="306.6" stroke="#a4a4a8" stroke-width="0.8"/><line x1="391.40" y1="303.6" x2="391.40" y2="306.6" stroke="#a4a4a8" stroke-width="0.8"/><line x1="394.40" y1="303.6" x2="394.40" y2="306.6" stroke="#a4a4a8" stroke-width="0.8"/><line x1="397.40" y1="303.6" x2="397.40" y2="306.6" stroke="#a4a4a8" stroke-width="0.8"/><line x1="400.40" y1="303.6" x2="400.40" y2="306.6" stroke="#a4a4a8" stroke-width="0.8"/><line x1="403.40" y1="303.6" x2="403.40" y2="306.6" stroke="#a4a4a8" stroke-width="0.8"/><line x1="406.40" y1="303.6" x2="406.40" y2="306.6" stroke="#a4a4a8" stroke-width="0.8"/><line x1="409.40" y1="303.6" x2="409.40" y2="306.6" stroke="#a4a4a8" stroke-width="0.8"/><line x1="412.40" y1="303.6" x2="412.40" y2="306.6" stroke="#a4a4a8" stroke-width="0.8"/><line x1="415.40" y1="303.6" x2="415.40" y2="306.6" stroke="#a4a4a8" stroke-width="0.8"/><line x1="418.40" y1="303.6" x2="418.40" y2="306.6" stroke="#a4a4a8" stroke-width="0.8"/><line x1="421.40" y1="303.6" x2="421.40" y2="306.6" stroke="#a4a4a8" stroke-width="0.8"/></g>
<path d="M48.50,306.4 L54.23,309.6 M51.10,306.4 L57.91,309.6 M53.70,306.4 L61.59,309.6 M56.30,306.4 L65.26,309.6 M58.90,306.4 L68.94,309.6 M61.50,306.4 L72.62,309.6 M64.10,306.4 L76.29,309.6 M66.70,306.4 L79.97,309.6 M69.30,306.4 L83.65,309.6 M71.90,306.4 L87.32,309.6 M74.50,306.4 L91.00,309.6 M77.10,306.4 L94.68,309.6 M79.70,306.4 L98.36,309.6 M82.30,306.4 L102.03,309.6 M84.90,306.4 L105.71,309.6 M87.50,306.4 L109.39,309.6 M90.10,306.4 L113.06,309.6 M92.70,306.4 L116.74,309.6 M95.30,306.4 L120.42,309.6 M97.90,306.4 L124.09,309.6 M100.50,306.4 L127.77,309.6 M103.10,306.4 L131.45,309.6 M105.70,306.4 L135.12,309.6 M108.30,306.4 L138.80,309.6 M110.90,306.4 L142.48,309.6 M113.50,306.4 L146.16,309.6 M116.10,306.4 L149.83,309.6 M118.70,306.4 L153.51,309.6 M121.30,306.4 L157.19,309.6 M123.90,306.4 L160.86,309.6 M126.50,306.4 L164.54,309.6 M129.10,306.4 L168.22,309.6 M131.70,306.4 L171.89,309.6 M134.30,306.4 L175.57,309.6 M136.90,306.4 L179.25,309.6 M139.50,306.4 L182.93,309.6 M142.10,306.4 L186.60,309.6 M144.70,306.4 L190.28,309.6 M147.30,306.4 L193.96,309.6 M149.90,306.4 L197.63,309.6 M152.50,306.4 L201.31,309.6 M155.10,306.4 L204.99,309.6 M157.70,306.4 L208.67,309.6 M160.30,306.4 L212.34,309.6 M162.90,306.4 L216.02,309.6 M165.50,306.4 L219.70,309.6 M168.10,306.4 L223.37,309.6 M170.70,306.4 L227.05,309.6 M173.30,306.4 L230.73,309.6 M175.90,306.4 L234.40,309.6 M178.50,306.4 L238.08,309.6 M181.10,306.4 L241.76,309.6 M183.70,306.4 L245.44,309.6 M186.30,306.4 L249.11,309.6 M188.90,306.4 L252.79,309.6 M191.50,306.4 L256.47,309.6 M194.10,306.4 L260.14,309.6 M196.70,306.4 L263.82,309.6 M200.00,306.4 L267.50,309.6 M203.00,306.4 L271.17,309.6 M206.00,306.4 L274.85,309.6 M209.00,306.4 L278.53,309.6 M212.00,306.4 L282.20,309.6 M215.00,306.4 L285.88,309.6 M218.00,306.4 L289.56,309.6 M221.00,306.4 L293.24,309.6 M224.00,306.4 L296.91,309.6 M227.00,306.4 L300.59,309.6 M230.00,306.4 L304.27,309.6 M233.00,306.4 L307.94,309.6 M236.00,306.4 L311.62,309.6 M239.00,306.4 L315.30,309.6 M242.00,306.4 L318.97,309.6 M245.00,306.4 L322.65,309.6 M248.00,306.4 L326.33,309.6 M251.00,306.4 L330.01,309.6 M254.00,306.4 L333.68,309.6 M257.00,306.4 L337.36,309.6 M260.00,306.4 L341.04,309.6 M263.00,306.4 L344.71,309.6 M266.00,306.4 L348.39,309.6 M269.00,306.4 L352.07,309.6 M272.00,306.4 L355.75,309.6 M275.00,306.4 L359.42,309.6 M278.00,306.4 L363.10,309.6 M281.00,306.4 L366.78,309.6 M284.00,306.4 L370.45,309.6 M287.00,306.4 L374.13,309.6 M290.00,306.4 L377.81,309.6 M293.00,306.4 L381.48,309.6 M296.00,306.4 L385.16,309.6 M299.00,306.4 L388.84,309.6 M302.00,306.4 L392.51,309.6 M305.00,306.4 L396.19,309.6 M308.00,306.4 L399.87,309.6 M311.00,306.4 L403.55,309.6 M314.00,306.4 L407.22,309.6 M317.00,306.4 L410.90,309.6 M320.00,306.4 L414.58,309.6 M323.00,306.4 L418.25,309.6 M326.00,306.4 L421.93,309.6 M329.00,306.4 L425.61,309.6 M332.00,306.4 L429.28,309.6 M335.00,306.4 L432.96,309.6 M338.00,306.4 L436.64,309.6 M341.00,306.4 L440.32,309.6 M344.00,306.4 L443.99,309.6" fill="none" stroke="#555" stroke-width="0.45"/>
<polygon points="59.0,305.8 75.0,306.2 90.0,306.5 130.0,307.2 230.0,307.2 300.0,307.2 380.0,307.1 408.0,307.2 424.0,306.3 424.0,307.1 408.0,308.3 380.0,309.2 300.0,309.5 230.0,309.5 130.0,309.7 90.0,309.4 75.0,308.9 59.0,306.8" fill="#111"/>
<path d="M43.20,309 L43.20,312.70 M46.88,309 L46.88,312.70 M50.55,309 L50.55,312.70 M54.23,309 L54.23,312.70 M57.91,309 L57.91,312.70 M61.59,309 L61.59,312.70 M65.26,309 L65.26,312.70 M68.94,309 L68.94,312.70 M72.62,309 L72.62,312.70 M76.29,309 L76.29,312.70 M79.97,309 L79.97,312.70 M83.65,309 L83.65,312.70 M87.32,309 L87.32,312.70 M91.00,309 L91.00,312.70 M94.68,309 L94.68,312.70 M98.36,309 L98.36,312.70 M102.03,309 L102.03,312.70 M105.71,309 L105.71,312.70 M109.39,309 L109.39,312.70 M113.06,309 L113.06,312.70 M116.74,309 L116.74,312.70 M120.42,309 L120.42,312.70 M124.09,309 L124.09,312.70 M127.77,309 L127.77,312.70 M131.45,309 L131.45,312.70 M135.12,309 L135.12,312.70 M138.80,309 L138.80,312.70 M142.48,309 L142.48,312.70 M146.16,309 L146.16,312.70 M149.83,309 L149.83,312.70 M153.51,309 L153.51,312.70 M157.19,309 L157.19,312.70 M160.86,309 L160.86,312.70 M164.54,309 L164.54,312.70 M168.22,309 L168.22,312.70 M171.89,309 L171.89,312.70 M175.57,309 L175.57,312.70 M179.25,309 L179.25,312.70 M182.93,309 L182.93,312.70 M186.60,309 L186.60,312.70 M190.28,309 L190.28,312.70 M193.96,309 L193.96,312.70 M197.63,309 L197.63,312.70 M201.31,309 L201.31,312.70 M204.99,309 L204.99,312.70 M208.67,309 L208.67,312.70 M212.34,309 L212.34,312.70 M216.02,309 L216.02,312.70 M219.70,309 L219.70,312.70 M223.37,309 L223.37,312.70 M227.05,309 L227.05,312.70 M230.73,309 L230.73,312.70 M234.40,309 L234.40,312.70 M238.08,309 L238.08,312.70 M241.76,309 L241.76,312.70 M245.44,309 L245.44,312.70 M249.11,309 L249.11,312.70 M252.79,309 L252.79,312.70 M256.47,309 L256.47,312.70 M260.14,309 L260.14,312.70 M263.82,309 L263.82,312.70 M267.50,309 L267.50,312.70 M271.17,309 L271.17,312.70 M274.85,309 L274.85,312.70 M278.53,309 L278.53,312.70 M282.20,309 L282.20,312.70 M285.88,309 L285.88,312.70 M289.56,309 L289.56,312.70 M293.24,309 L293.24,312.70 M296.91,309 L296.91,312.70 M300.59,309 L300.59,312.70 M304.27,309 L304.27,312.70 M307.94,309 L307.94,312.70 M311.62,309 L311.62,312.70 M315.30,309 L315.30,312.70 M318.97,309 L318.97,312.70 M322.65,309 L322.65,312.70 M326.33,309 L326.33,312.70 M330.01,309 L330.01,312.70 M333.68,309 L333.68,312.70 M337.36,309 L337.36,312.70 M341.04,309 L341.04,312.70 M344.71,309 L344.71,312.70 M348.39,309 L348.39,312.70 M352.07,309 L352.07,312.70 M355.75,309 L355.75,312.70 M359.42,309 L359.42,312.70 M363.10,309 L363.10,312.70 M366.78,309 L366.78,312.70 M370.45,309 L370.45,312.70 M374.13,309 L374.13,312.70 M377.81,309 L377.81,312.70 M381.48,309 L381.48,312.70 M385.16,309 L385.16,312.70 M388.84,309 L388.84,312.70 M392.51,309 L392.51,312.70 M396.19,309 L396.19,312.70 M399.87,309 L399.87,312.70 M403.55,309 L403.55,312.70 M407.22,309 L407.22,312.70 M410.90,309 L410.90,312.70 M414.58,309 L414.58,312.70 M418.25,309 L418.25,312.70 M421.93,309 L421.93,312.70" fill="none" stroke="#444" stroke-width="0.6"/>
<path d="M46.60,304.2 L43.20,314.30 M47.90,304.2 L46.88,314.30 M49.20,304.2 L50.55,312.30 M50.50,304.2 L54.23,312.30 M51.80,304.2 L57.91,312.30 M53.10,304.2 L61.59,312.30 M54.40,304.2 L65.26,312.30 M55.70,304.2 L68.94,312.30 M57.00,304.2 L72.62,312.30" fill="none" stroke="#667" stroke-width="0.75"/>
<path d="M423.50,304.8 L423.50,306.2 L425.61,310.5 L425.61,325.10 M425.20,304.8 L425.20,306.2 L429.28,310.5 L429.28,312.30 M426.80,304.8 L426.80,306.2 L432.96,310.5 L432.96,314.40 M428.50,304.8 L428.50,306.2 L436.64,310.5 L436.64,327.40 M432.00,304.8 L432.00,306.2 L440.32,310.5 L440.32,320.90 M440.50,304.8 L440.50,306.2 L443.99,310.5 L443.99,312.30" fill="none" stroke="#555" stroke-width="0.6"/>
<path d="M456.50,304.6 L456.50,306.5 L454.60,310 L454.60,312.50 M456.50,304.6 L456.50,306.5 L458.50,310 L458.50,313.50 M462.00,304.6 L462.00,306.5 L465.80,310 L465.80,312.50 M475.00,304.6 L475.00,306.5 L473.30,310 L473.30,317.00 M475.00,304.6 L475.00,306.5 L476.70,310 L476.70,312.50 M495.20,304.6 L495.20,306.5 L491.50,310 L491.50,312.50 M495.20,304.6 L495.20,306.5 L498.80,310 L498.80,312.50" fill="none" stroke="#555" stroke-width="0.7"/>
<path d="M46.88,243.50 L46.88,281 M68.94,265.00 L68.94,281 M76.29,259.00 L76.29,281 M79.97,274.80 L79.97,281 M94.68,269.30 L94.68,281 M120.42,272.70 L120.42,281 M124.09,258.30 L124.09,281 M131.45,276.00 L131.45,281 M157.19,273.70 L157.19,281 M160.86,243.50 L160.86,281 M164.54,275.60 L164.54,281 M171.89,243.50 L171.89,281 M182.93,270.50 L182.93,281 M190.28,258.90 L190.28,281 M193.96,273.70 L193.96,281 M219.70,273.00 L219.70,281 M238.08,275.60 L238.08,281 M267.50,243.50 L267.50,281 M274.85,243.50 L274.85,281 M285.88,271.00 L285.88,281 M289.56,243.50 L289.56,281 M293.24,260.80 L293.24,281 M307.94,243.50 L307.94,281 M311.62,276.00 L311.62,281 M341.04,255.00 L341.04,281 M352.00,276.70 L352.00,281 M392.50,273.70 L392.50,281 M407.30,276.70 L407.30,281 M421.90,258.90 L421.90,281 M458.50,259.00 L458.50,281 M465.80,275.80 L465.80,281 M43.20,315.90 L43.20,311 M46.88,315.90 L46.88,311 M94.68,348.20 L94.68,311 M98.36,329.60 L98.36,311 M109.39,317.00 L109.39,311 M116.74,319.70 L116.74,311 M127.77,316.50 L127.77,311 M131.45,348.20 L131.45,311 M138.80,326.00 L138.80,311 M149.83,318.00 L149.83,311 M168.22,319.00 L168.22,311 M175.57,322.20 L175.57,311 M193.96,347.60 L193.96,311 M223.37,347.60 L223.37,311 M230.73,325.80 L230.73,311 M234.40,347.60 L234.40,311 M241.76,320.50 L241.76,311 M245.44,335.50 L245.44,311 M282.20,316.50 L282.20,311 M285.88,348.70 L285.88,311 M296.91,322.20 L296.91,311 M374.13,315.70 L374.13,311 M392.51,316.00 L392.51,311 M425.61,326.70 L425.61,311 M432.96,316.00 L432.96,311 M436.64,329.00 L436.64,311 M440.32,322.50 L440.32,311 M473.30,318.50 L473.30,311" fill="none" stroke="#8a8a8a" stroke-width="0.9"/>
<g><circle cx="43.20" cy="277.80" r="2.1" fill="#2b4a3e"/><circle cx="46.88" cy="243.50" r="2.1" fill="#2b4a3e"/><circle cx="50.55" cy="277.80" r="2.1" fill="#2ea3d9"/><circle cx="54.23" cy="277.80" r="1.8" fill="#c47a2c" stroke="#6e4415" stroke-width="0.65"/><circle cx="57.91" cy="277.80" r="2.1" fill="#2ea3d9"/><circle cx="61.59" cy="277.80" r="2.1" fill="#2ea3d9"/><circle cx="65.26" cy="277.80" r="2.1" fill="#2ea3d9"/><circle cx="68.94" cy="265.00" r="2.1" fill="#2ea3d9"/><circle cx="72.62" cy="277.80" r="2.1" fill="#2ea3d9"/><circle cx="76.29" cy="259.00" r="2.1" fill="#2ea3d9"/><circle cx="79.97" cy="274.80" r="2.1" fill="#2ea3d9"/><circle cx="83.65" cy="277.80" r="2.1" fill="#2ea3d9"/><circle cx="87.32" cy="277.80" r="2.1" fill="#2ea3d9"/><circle cx="91.00" cy="277.80" r="2.1" fill="#2ea3d9"/><circle cx="94.68" cy="269.30" r="2.1" fill="#2ea3d9"/><circle cx="98.36" cy="277.80" r="1.8" fill="#c47a2c" stroke="#6e4415" stroke-width="0.65"/><circle cx="102.03" cy="277.80" r="2.1" fill="#2ea3d9"/><circle cx="105.71" cy="277.80" r="1.8" fill="#c47a2c" stroke="#6e4415" stroke-width="0.65"/><circle cx="109.39" cy="277.80" r="2.1" fill="#2ea3d9"/><circle cx="113.06" cy="277.80" r="1.8" fill="#c47a2c" stroke="#6e4415" stroke-width="0.65"/><circle cx="116.74" cy="277.80" r="2.1" fill="#2ea3d9"/><circle cx="120.42" cy="272.70" r="2.1" fill="#2ea3d9"/><circle cx="124.09" cy="258.30" r="2.1" fill="#2ea3d9"/><circle cx="127.77" cy="277.80" r="2.1" fill="#2ea3d9"/><circle cx="131.45" cy="276.00" r="2.1" fill="#2ea3d9"/><circle cx="135.12" cy="277.80" r="2.1" fill="#2ea3d9"/><circle cx="138.80" cy="277.80" r="1.8" fill="#c47a2c" stroke="#6e4415" stroke-width="0.65"/><circle cx="142.48" cy="277.80" r="1.8" fill="#c47a2c" stroke="#6e4415" stroke-width="0.65"/><circle cx="146.16" cy="277.80" r="1.8" fill="#c47a2c" stroke="#6e4415" stroke-width="0.65"/><circle cx="149.83" cy="277.80" r="1.8" fill="#c47a2c" stroke="#6e4415" stroke-width="0.65"/><circle cx="153.51" cy="277.80" r="1.8" fill="#c47a2c" stroke="#6e4415" stroke-width="0.65"/><circle cx="157.19" cy="273.70" r="1.8" fill="#c47a2c" stroke="#6e4415" stroke-width="0.65"/><circle cx="160.86" cy="243.50" r="1.8" fill="#c47a2c" stroke="#6e4415" stroke-width="0.65"/><circle cx="164.54" cy="275.60" r="2.1" fill="#2ea3d9"/><circle cx="168.22" cy="277.80" r="1.8" fill="#c47a2c" stroke="#6e4415" stroke-width="0.65"/><circle cx="171.89" cy="243.50" r="2.1" fill="#2ea3d9"/><circle cx="175.57" cy="277.80" r="1.85" fill="#38a6d4" stroke="#1b5d74" stroke-width="0.85"/><circle cx="179.25" cy="277.80" r="2.1" fill="#2ea3d9"/><circle cx="182.93" cy="270.50" r="2.1" fill="#2ea3d9"/><circle cx="186.60" cy="277.80" r="2.1" fill="#2ea3d9"/><circle cx="190.28" cy="258.90" r="1.85" fill="#38a6d4" stroke="#1b5d74" stroke-width="0.85"/><circle cx="193.96" cy="273.70" r="2.1" fill="#2ea3d9"/><circle cx="197.63" cy="277.80" r="1.85" fill="#38a6d4" stroke="#1b5d74" stroke-width="0.85"/><circle cx="201.31" cy="277.80" r="2.1" fill="#2ea3d9"/><circle cx="204.99" cy="277.80" r="1.8" fill="#c47a2c" stroke="#6e4415" stroke-width="0.65"/><circle cx="208.67" cy="277.80" r="1.8" fill="#c47a2c" stroke="#6e4415" stroke-width="0.65"/><circle cx="212.34" cy="277.80" r="1.8" fill="#c47a2c" stroke="#6e4415" stroke-width="0.65"/><circle cx="216.02" cy="277.80" r="2.1" fill="#bb1f6a"/><circle cx="219.70" cy="273.00" r="1.85" fill="#38a6d4" stroke="#1b5d74" stroke-width="0.85"/><circle cx="223.37" cy="277.80" r="1.8" fill="#c47a2c" stroke="#6e4415" stroke-width="0.65"/><circle cx="227.05" cy="277.80" r="2.1" fill="#2ea3d9"/><circle cx="230.73" cy="277.80" r="2.1" fill="#2ea3d9"/><circle cx="234.40" cy="277.80" r="1.8" fill="#c47a2c" stroke="#6e4415" stroke-width="0.65"/><circle cx="238.08" cy="275.60" r="2.1" fill="#2ea3d9"/><circle cx="241.76" cy="277.80" r="1.85" fill="#38a6d4" stroke="#1b5d74" stroke-width="0.85"/><circle cx="245.44" cy="277.80" r="1.85" fill="#38a6d4" stroke="#1b5d74" stroke-width="0.85"/><circle cx="249.11" cy="277.80" r="1.8" fill="#c47a2c" stroke="#6e4415" stroke-width="0.65"/><circle cx="252.79" cy="277.80" r="2.1" fill="#2ea3d9"/><circle cx="256.47" cy="277.80" r="2.1" fill="#2ea3d9"/><circle cx="260.14" cy="277.80" r="2.1" fill="#2ea3d9"/><circle cx="263.82" cy="277.80" r="2.1" fill="#2ea3d9"/><circle cx="267.50" cy="243.50" r="2.1" fill="#2ea3d9"/><circle cx="271.17" cy="277.80" r="2.1" fill="#2ea3d9"/><circle cx="274.85" cy="243.50" r="2.1" fill="#2ea3d9"/><circle cx="278.53" cy="277.80" r="2.1" fill="#2ea3d9"/><circle cx="282.20" cy="277.80" r="2.1" fill="#2ea3d9"/><circle cx="285.88" cy="271.00" r="1.85" fill="#38a6d4" stroke="#1b5d74" stroke-width="0.85"/><circle cx="289.56" cy="243.50" r="1.8" fill="#c47a2c" stroke="#6e4415" stroke-width="0.65"/><circle cx="293.24" cy="260.80" r="2.1" fill="#2ea3d9"/><circle cx="296.91" cy="277.80" r="1.85" fill="#38a6d4" stroke="#1b5d74" stroke-width="0.85"/><circle cx="300.59" cy="277.80" r="2.1" fill="#3a2a78"/><circle cx="304.27" cy="277.80" r="1.85" fill="#38a6d4" stroke="#1b5d74" stroke-width="0.85"/><circle cx="307.94" cy="243.50" r="1.85" fill="#38a6d4" stroke="#1b5d74" stroke-width="0.85"/><circle cx="311.62" cy="276.00" r="2.1" fill="#2ea3d9"/><circle cx="315.30" cy="277.80" r="2.1" fill="#2ea3d9"/><circle cx="318.97" cy="277.80" r="1.8" fill="#c47a2c" stroke="#6e4415" stroke-width="0.65"/><circle cx="322.65" cy="277.80" r="1.8" fill="#c47a2c" stroke="#6e4415" stroke-width="0.65"/><circle cx="326.33" cy="277.80" r="2.1" fill="#2ea3d9"/><circle cx="330.01" cy="277.80" r="1.8" fill="#c47a2c" stroke="#6e4415" stroke-width="0.65"/><circle cx="333.68" cy="277.80" r="1.8" fill="#c47a2c" stroke="#6e4415" stroke-width="0.65"/><circle cx="337.36" cy="277.80" r="1.8" fill="#c47a2c" stroke="#6e4415" stroke-width="0.65"/><circle cx="341.04" cy="255.00" r="1.85" fill="#38a6d4" stroke="#1b5d74" stroke-width="0.85"/><circle cx="344.71" cy="277.80" r="1.8" fill="#c47a2c" stroke="#6e4415" stroke-width="0.65"/><circle cx="352.00" cy="276.70" r="2.1" fill="#2ea3d9"/><circle cx="359.50" cy="277.80" r="1.85" fill="#38a6d4" stroke="#1b5d74" stroke-width="0.85"/><circle cx="366.40" cy="277.80" r="1.85" fill="#38a6d4" stroke="#1b5d74" stroke-width="0.85"/><circle cx="373.80" cy="277.80" r="2.1" fill="#2ea3d9"/><circle cx="384.80" cy="277.80" r="2.1" fill="#2ea3d9"/><circle cx="392.50" cy="273.70" r="2.1" fill="#2ea3d9"/><circle cx="407.30" cy="276.70" r="2.1" fill="#2ea3d9"/><circle cx="421.90" cy="258.90" r="2.1" fill="#2ea3d9"/><circle cx="428.80" cy="277.80" r="2.1" fill="#2ea3d9"/><circle cx="432.70" cy="277.80" r="1.8" fill="#c47a2c" stroke="#6e4415" stroke-width="0.65"/><circle cx="443.70" cy="277.80" r="2.1" fill="#2ea3d9"/><circle cx="451.20" cy="277.80" r="2.1" fill="#2ea3d9"/><circle cx="458.50" cy="259.00" r="2.1" fill="#2ea3d9"/><circle cx="465.80" cy="275.80" r="2.1" fill="#2ea3d9"/><circle cx="469.60" cy="277.80" r="2.1" fill="#bb1f6a"/><circle cx="491.50" cy="277.80" r="2.1" fill="#2ea3d9"/><circle cx="498.80" cy="277.80" r="2.1" fill="#2ea3d9"/><circle cx="43.20" cy="315.90" r="2.1" fill="#2ea3d9"/><circle cx="46.88" cy="315.90" r="2.1" fill="#2ea3d9"/><circle cx="50.55" cy="313.90" r="2.1" fill="#2ea3d9"/><circle cx="54.23" cy="313.90" r="2.1" fill="#bb1f6a"/><circle cx="57.91" cy="313.90" r="1.8" fill="#c47a2c" stroke="#6e4415" stroke-width="0.65"/><circle cx="61.59" cy="313.90" r="2.1" fill="#2ea3d9"/><circle cx="65.26" cy="313.90" r="1.8" fill="#c47a2c" stroke="#6e4415" stroke-width="0.65"/><circle cx="68.94" cy="313.90" r="2.1" fill="#2ea3d9"/><circle cx="72.62" cy="313.90" r="2.1" fill="#2ea3d9"/><circle cx="76.29" cy="313.90" r="2.1" fill="#3a2a78"/><circle cx="79.97" cy="313.90" r="2.1" fill="#2ea3d9"/><circle cx="83.65" cy="313.90" r="2.1" fill="#2ea3d9"/><circle cx="87.32" cy="313.90" r="2.1" fill="#2ea3d9"/><circle cx="91.00" cy="313.90" r="2.1" fill="#2ea3d9"/><circle cx="94.68" cy="348.20" r="2.1" fill="#2ea3d9"/><circle cx="98.36" cy="329.60" r="1.8" fill="#c47a2c" stroke="#6e4415" stroke-width="0.65"/><circle cx="102.03" cy="313.90" r="2.1" fill="#2ea3d9"/><circle cx="105.71" cy="313.90" r="2.1" fill="#bb1f6a"/><circle cx="109.39" cy="317.00" r="2.1" fill="#bb1f6a"/><circle cx="113.06" cy="313.90" r="1.8" fill="#c47a2c" stroke="#6e4415" stroke-width="0.65"/><circle cx="116.74" cy="319.70" r="1.8" fill="#c47a2c" stroke="#6e4415" stroke-width="0.65"/><circle cx="120.42" cy="313.90" r="1.8" fill="#c47a2c" stroke="#6e4415" stroke-width="0.65"/><circle cx="124.09" cy="313.90" r="2.1" fill="#2ea3d9"/><circle cx="127.77" cy="316.50" r="2.1" fill="#2ea3d9"/><circle cx="131.45" cy="348.20" r="2.1" fill="#2ea3d9"/><circle cx="135.12" cy="313.90" r="1.8" fill="#c47a2c" stroke="#6e4415" stroke-width="0.65"/><circle cx="138.80" cy="326.00" r="2.1" fill="#2ea3d9"/><circle cx="142.48" cy="313.90" r="2.1" fill="#2ea3d9"/><circle cx="146.16" cy="313.90" r="1.8" fill="#c47a2c" stroke="#6e4415" stroke-width="0.65"/><circle cx="149.83" cy="318.00" r="1.8" fill="#c47a2c" stroke="#6e4415" stroke-width="0.65"/><circle cx="153.51" cy="313.90" r="2.1" fill="#2ea3d9"/><circle cx="157.19" cy="313.90" r="2.1" fill="#bb1f6a"/><circle cx="160.86" cy="313.90" r="2.1" fill="#2ea3d9"/><circle cx="164.54" cy="313.90" r="2.1" fill="#2ea3d9"/><circle cx="168.22" cy="319.00" r="2.1" fill="#bb1f6a"/><circle cx="171.89" cy="313.90" r="2.1" fill="#bb1f6a"/><circle cx="175.57" cy="322.20" r="2.1" fill="#bb1f6a"/><circle cx="179.25" cy="313.90" r="2.1" fill="#2ea3d9"/><circle cx="182.93" cy="313.90" r="1.8" fill="#c47a2c" stroke="#6e4415" stroke-width="0.65"/><circle cx="186.60" cy="313.90" r="2.1" fill="#2ea3d9"/><circle cx="190.28" cy="313.90" r="2.1" fill="#2ea3d9"/><circle cx="193.96" cy="347.60" r="2.1" fill="#2ea3d9"/><circle cx="197.63" cy="313.90" r="2.1" fill="#2ea3d9"/><circle cx="201.31" cy="313.90" r="2.1" fill="#2ea3d9"/><circle cx="204.99" cy="313.90" r="2.1" fill="#2ea3d9"/><circle cx="208.67" cy="313.90" r="2.1" fill="#2ea3d9"/><circle cx="212.34" cy="313.90" r="2.1" fill="#2ea3d9"/><circle cx="216.02" cy="313.90" r="1.85" fill="#38a6d4" stroke="#1b5d74" stroke-width="0.85"/><circle cx="219.70" cy="313.90" r="1.85" fill="#38a6d4" stroke="#1b5d74" stroke-width="0.85"/><circle cx="223.37" cy="347.60" r="1.85" fill="#38a6d4" stroke="#1b5d74" stroke-width="0.85"/><circle cx="227.05" cy="313.90" r="1.85" fill="#38a6d4" stroke="#1b5d74" stroke-width="0.85"/><circle cx="230.73" cy="325.80" r="2.1" fill="#2ea3d9"/><circle cx="234.40" cy="347.60" r="1.85" fill="#38a6d4" stroke="#1b5d74" stroke-width="0.85"/><circle cx="238.08" cy="313.90" r="1.8" fill="#c47a2c" stroke="#6e4415" stroke-width="0.65"/><circle cx="241.76" cy="320.50" r="1.85" fill="#38a6d4" stroke="#1b5d74" stroke-width="0.85"/><circle cx="245.44" cy="335.50" r="2.1" fill="#2ea3d9"/><circle cx="249.11" cy="313.90" r="1.85" fill="#38a6d4" stroke="#1b5d74" stroke-width="0.85"/><circle cx="252.79" cy="313.90" r="2.1" fill="#2ea3d9"/><circle cx="256.47" cy="313.90" r="2.1" fill="#2ea3d9"/><circle cx="260.14" cy="313.90" r="2.1" fill="#2ea3d9"/><circle cx="263.82" cy="313.90" r="2.1" fill="#2ea3d9"/><circle cx="267.50" cy="313.90" r="1.85" fill="#38a6d4" stroke="#1b5d74" stroke-width="0.85"/><circle cx="271.17" cy="313.90" r="2.1" fill="#2ea3d9"/><circle cx="274.85" cy="313.90" r="2.1" fill="#2ea3d9"/><circle cx="278.53" cy="313.90" r="1.8" fill="#c47a2c" stroke="#6e4415" stroke-width="0.65"/><circle cx="282.20" cy="316.50" r="2.1" fill="#2ea3d9"/><circle cx="285.88" cy="348.70" r="2.1" fill="#2ea3d9"/><circle cx="289.56" cy="313.90" r="2.1" fill="#2ea3d9"/><circle cx="293.24" cy="313.90" r="2.1" fill="#2ea3d9"/><circle cx="296.91" cy="322.20" r="2.1" fill="#2ea3d9"/><circle cx="300.59" cy="313.90" r="2.1" fill="#2ea3d9"/><circle cx="304.27" cy="313.90" r="1.8" fill="#c47a2c" stroke="#6e4415" stroke-width="0.65"/><circle cx="307.94" cy="313.90" r="2.1" fill="#2ea3d9"/><circle cx="311.62" cy="313.90" r="2.1" fill="#2ea3d9"/><circle cx="315.30" cy="313.90" r="2.1" fill="#2ea3d9"/><circle cx="318.97" cy="313.90" r="2.1" fill="#bb1f6a"/><circle cx="322.65" cy="313.90" r="2.1" fill="#2ea3d9"/><circle cx="326.33" cy="313.90" r="2.1" fill="#2ea3d9"/><circle cx="330.01" cy="313.90" r="2.1" fill="#2ea3d9"/><circle cx="333.68" cy="313.90" r="1.8" fill="#c47a2c" stroke="#6e4415" stroke-width="0.65"/><circle cx="337.36" cy="313.90" r="1.85" fill="#38a6d4" stroke="#1b5d74" stroke-width="0.85"/><circle cx="341.04" cy="313.90" r="1.8" fill="#c47a2c" stroke="#6e4415" stroke-width="0.65"/><circle cx="344.71" cy="313.90" r="1.85" fill="#38a6d4" stroke="#1b5d74" stroke-width="0.85"/><circle cx="348.39" cy="313.90" r="1.85" fill="#38a6d4" stroke="#1b5d74" stroke-width="0.85"/><circle cx="352.07" cy="313.90" r="1.85" fill="#38a6d4" stroke="#1b5d74" stroke-width="0.85"/><circle cx="355.75" cy="313.90" r="2.1" fill="#2ea3d9"/><circle cx="359.42" cy="313.90" r="2.1" fill="#2ea3d9"/><circle cx="363.10" cy="313.90" r="2.1" fill="#3a2a78"/><circle cx="366.78" cy="313.90" r="1.85" fill="#38a6d4" stroke="#1b5d74" stroke-width="0.85"/><circle cx="370.45" cy="313.90" r="1.8" fill="#c47a2c" stroke="#6e4415" stroke-width="0.65"/><circle cx="374.13" cy="315.70" r="1.85" fill="#38a6d4" stroke="#1b5d74" stroke-width="0.85"/><circle cx="377.81" cy="313.90" r="2.1" fill="#2ea3d9"/><circle cx="381.48" cy="313.90" r="1.85" fill="#38a6d4" stroke="#1b5d74" stroke-width="0.85"/><circle cx="385.16" cy="313.90" r="1.8" fill="#c47a2c" stroke="#6e4415" stroke-width="0.65"/><circle cx="388.84" cy="313.90" r="2.1" fill="#2ea3d9"/><circle cx="392.51" cy="316.00" r="2.1" fill="#2ea3d9"/><circle cx="396.19" cy="313.90" r="2.1" fill="#2ea3d9"/><circle cx="399.87" cy="313.90" r="1.8" fill="#c47a2c" stroke="#6e4415" stroke-width="0.65"/><circle cx="403.55" cy="313.90" r="2.1" fill="#2ea3d9"/><circle cx="407.22" cy="313.90" r="2.1" fill="#2ea3d9"/><circle cx="410.90" cy="313.90" r="1.8" fill="#c47a2c" stroke="#6e4415" stroke-width="0.65"/><circle cx="414.58" cy="313.90" r="2.1" fill="#bb1f6a"/><circle cx="418.25" cy="313.90" r="2.1" fill="#2ea3d9"/><circle cx="421.93" cy="313.90" r="1.8" fill="#c47a2c" stroke="#6e4415" stroke-width="0.65"/><circle cx="425.61" cy="326.70" r="2.1" fill="#2ea3d9"/><circle cx="429.28" cy="313.90" r="1.8" fill="#c47a2c" stroke="#6e4415" stroke-width="0.65"/><circle cx="432.96" cy="316.00" r="1.85" fill="#38a6d4" stroke="#1b5d74" stroke-width="0.85"/><circle cx="436.64" cy="329.00" r="2.1" fill="#2ea3d9"/><circle cx="440.32" cy="322.50" r="1.8" fill="#c47a2c" stroke="#6e4415" stroke-width="0.65"/><circle cx="443.99" cy="313.90" r="2.1" fill="#bb1f6a"/><circle cx="454.60" cy="314.00" r="1.8" fill="#c47a2c" stroke="#6e4415" stroke-width="0.65"/><circle cx="458.50" cy="315.00" r="2.1" fill="#2ea3d9"/><circle cx="465.80" cy="314.00" r="2.1" fill="#2ea3d9"/><circle cx="473.30" cy="318.50" r="2.1" fill="#2ea3d9"/><circle cx="476.70" cy="314.00" r="2.1" fill="#2ea3d9"/><circle cx="491.50" cy="314.00" r="2.1" fill="#2ea3d9"/><circle cx="498.80" cy="314.00" r="1.8" fill="#c47a2c" stroke="#6e4415" stroke-width="0.65"/></g>
<path d="M35.6,254.5 H38.2 V280.6 H35.6 M35.6,263.2 H38.2 M35.6,271.9 H38.2" fill="none" stroke="#222" stroke-width="1.25"/>
<path d="M35.6,311 H38.2 V337.5 H35.6 M35.6,319.8 H38.2 M35.6,328.7 H38.2" fill="none" stroke="#222" stroke-width="1.25"/>
<text x="32.30" y="256.80" font-size="6.5" fill="#444" text-anchor="end">45</text>
<text x="32.30" y="265.50" font-size="6.5" fill="#444" text-anchor="end">30</text>
<text x="32.30" y="274.20" font-size="6.5" fill="#444" text-anchor="end">15</text>
<text x="32.30" y="282.90" font-size="6.5" fill="#444" text-anchor="end">0</text>
<text x="32.30" y="313.30" font-size="6.5" fill="#444" text-anchor="end">0</text>
<text x="32.30" y="322.10" font-size="6.5" fill="#444" text-anchor="end">15</text>
<text x="32.30" y="331.00" font-size="6.5" fill="#444" text-anchor="end">30</text>
<text x="32.30" y="339.80" font-size="6.5" fill="#444" text-anchor="end">45</text>
<text transform="translate(20.2,314.2) rotate(-90)" font-size="7" fill="#444" textLength="40.4" lengthAdjust="spacingAndGlyphs">No. of samples</text>
<path d="M426,307.9 H504 M490.3,307.9 V305.5 M504,307.9 V305.5" fill="none" stroke="#9aa" stroke-width="0.6"/>
<text x="483.50" y="322.20" font-size="5.5" fill="#c4c4c4" text-anchor="start" textLength="8.00" lengthAdjust="spacingAndGlyphs">600</text>
<text x="499.50" y="322.20" font-size="5.5" fill="#c4c4c4" text-anchor="start" textLength="8.00" lengthAdjust="spacingAndGlyphs">622</text>
<text x="335.50" y="322.40" font-size="5.5" fill="#c8c8c8" text-anchor="start" textLength="8.00" lengthAdjust="spacingAndGlyphs">400</text>
<text x="37.00" y="227.80" font-size="6.4" fill="#444" text-anchor="end">Germline</text>
<text x="37.00" y="235.80" font-size="6.4" fill="#444" text-anchor="end">variant:</text>
<text x="37.00" y="360.40" font-size="6.4" fill="#444" text-anchor="end">Germline</text>
<text x="37.00" y="368.00" font-size="6.4" fill="#444" text-anchor="end">variant:</text>
<circle cx="62" cy="411.5" r="1.9" fill="#2b4a3e"/>
<text x="66.80" y="413.60" font-size="6.1" fill="#333" text-anchor="start" textLength="24.00" lengthAdjust="spacingAndGlyphs">Start lost</text>
<circle cx="101.9" cy="411.5" r="1.9" fill="#b8762a" stroke="#6b4a20" stroke-width="0.6"/>
<text x="107.00" y="413.60" font-size="6.1" fill="#333" text-anchor="start" textLength="27.70" lengthAdjust="spacingAndGlyphs">Truncating</text>
<circle cx="145" cy="411.5" r="1.9" fill="#bb1f6a"/>
<text x="150.80" y="413.60" font-size="6.1" fill="#333" text-anchor="start" textLength="46.20" lengthAdjust="spacingAndGlyphs">Splice site variant</text>
<circle cx="208" cy="411.5" r="1.9" fill="#2ea3d9"/>
<text x="209.90" y="413.60" font-size="6.1" fill="#333" text-anchor="start">/</text>
<circle cx="214.2" cy="411.5" r="1.9" fill="#2a9fd0" stroke="#1d5f80" stroke-width="0.6"/>
<text x="219.50" y="413.60" font-size="6.1" fill="#333" text-anchor="start" textLength="73.00" lengthAdjust="spacingAndGlyphs">Missense - VUS/Pathogenic</text>
<circle cx="303.6" cy="411.5" r="1.9" fill="#5a2f7a"/>
<text x="305.40" y="413.60" font-size="6.1" fill="#333" text-anchor="start">/</text>
<circle cx="310.3" cy="411.5" r="1.9" fill="#2a1a40"/>
<text x="315.30" y="413.60" font-size="6.1" fill="#333" text-anchor="start" textLength="91.70" lengthAdjust="spacingAndGlyphs">Inframe deletion - VUS/Pathogenic</text>
<text x="416.60" y="413.60" font-size="6.1" fill="#444" text-anchor="start" textLength="43.40" lengthAdjust="spacingAndGlyphs">VUS/<tspan fill="#c2335e">Pathogenic</tspan></text>
<g><text transform="translate(44.65,238.6) rotate(-90)" font-size="4.9" fill="#dd6c8c" textLength="23.3" lengthAdjust="spacingAndGlyphs">p.T516M (8)</text><text transform="translate(48.33,238.6) rotate(-90)" font-size="4.9" fill="#dd6c8c" textLength="22.2" lengthAdjust="spacingAndGlyphs">p.D130T (7)</text><text transform="translate(52.00,238.6) rotate(-90)" font-size="4.9" fill="#dd6c8c" textLength="15.8" lengthAdjust="spacingAndGlyphs">p.M165S (7)</text><text transform="translate(55.68,238.6) rotate(-90)" font-size="4.9" fill="#dd6c8c" textLength="16.6" lengthAdjust="spacingAndGlyphs">p.V596M (6)</text><text transform="translate(59.36,238.6) rotate(-90)" font-size="4.9" fill="#4e4e4e" textLength="16.3" lengthAdjust="spacingAndGlyphs">p.W477D (2)</text><text transform="translate(63.04,238.6) rotate(-90)" font-size="4.9" fill="#4e4e4e" textLength="15.9" lengthAdjust="spacingAndGlyphs">p.D72L (8)</text><text transform="translate(66.71,238.6) rotate(-90)" font-size="4.9" fill="#4e4e4e" textLength="20.2" lengthAdjust="spacingAndGlyphs">p.P365A (8)</text><text transform="translate(70.39,238.6) rotate(-90)" font-size="4.9" fill="#4e4e4e" textLength="20.5" lengthAdjust="spacingAndGlyphs">p.Y129S (1)</text><text transform="translate(74.07,238.6) rotate(-90)" font-size="4.9" fill="#4e4e4e" textLength="20.0" lengthAdjust="spacingAndGlyphs">p.L142I (7)</text><text transform="translate(77.74,238.6) rotate(-90)" font-size="4.9" fill="#4e4e4e" textLength="20.6" lengthAdjust="spacingAndGlyphs">p.S92G (8)</text><text transform="translate(81.42,238.6) rotate(-90)" font-size="4.9" fill="#4e4e4e" textLength="20.6" lengthAdjust="spacingAndGlyphs">p.K150Q (9)</text><text transform="translate(85.10,238.6) rotate(-90)" font-size="4.9" fill="#4e4e4e" textLength="20.2" lengthAdjust="spacingAndGlyphs">p.Q377P (4)</text><text transform="translate(88.77,238.6) rotate(-90)" font-size="4.9" fill="#4e4e4e" textLength="19.7" lengthAdjust="spacingAndGlyphs">p.G164I (4)</text><text transform="translate(92.45,238.6) rotate(-90)" font-size="4.9" fill="#4e4e4e" textLength="19.2" lengthAdjust="spacingAndGlyphs">p.W196K (5)</text><text transform="translate(96.13,238.6) rotate(-90)" font-size="4.9" fill="#4e4e4e" textLength="19.2" lengthAdjust="spacingAndGlyphs">p.Q557N (6)</text><text transform="translate(99.81,238.6) rotate(-90)" font-size="4.9" fill="#dd6c8c" textLength="21.6" lengthAdjust="spacingAndGlyphs">p.T65R (9)</text><text transform="translate(103.48,238.6) rotate(-90)" font-size="4.9" fill="#dd6c8c" textLength="19.6" lengthAdjust="spacingAndGlyphs">p.P413E (8)</text><text transform="translate(107.16,238.6) rotate(-90)" font-size="4.9" fill="#dd6c8c" textLength="20.5" lengthAdjust="spacingAndGlyphs">p.C205D (4)</text><text transform="translate(110.84,238.6) rotate(-90)" font-size="4.9" fill="#dd6c8c" textLength="29.8" lengthAdjust="spacingAndGlyphs">p.EWE358Y (1)</text><text transform="translate(114.51,238.6) rotate(-90)" font-size="4.9" fill="#4e4e4e" textLength="25.6" lengthAdjust="spacingAndGlyphs">p.Y36D (42)</text><text transform="translate(118.19,238.6) rotate(-90)" font-size="4.9" fill="#4e4e4e" textLength="24.5" lengthAdjust="spacingAndGlyphs">p.N382S (2)</text><text transform="translate(121.87,238.6) rotate(-90)" font-size="4.9" fill="#4e4e4e" textLength="22.6" lengthAdjust="spacingAndGlyphs">p.S487S (8)</text><text transform="translate(125.54,238.6) rotate(-90)" font-size="4.9" fill="#4e4e4e" textLength="23.3" lengthAdjust="spacingAndGlyphs">p.F114M (5)</text><text transform="translate(129.22,238.6) rotate(-90)" font-size="4.9" fill="#4e4e4e" textLength="23.9" lengthAdjust="spacingAndGlyphs">p.G538A (4)</text><text transform="translate(132.90,238.6) rotate(-90)" font-size="4.9" fill="#4e4e4e" textLength="25.6" lengthAdjust="spacingAndGlyphs">p.T380F (9)</text><text transform="translate(136.57,238.6) rotate(-90)" font-size="4.9" fill="#4e4e4e" textLength="25.5" lengthAdjust="spacingAndGlyphs">p.T315D (5)</text><text transform="translate(140.25,238.6) rotate(-90)" font-size="4.9" fill="#dd6c8c" textLength="32.1" lengthAdjust="spacingAndGlyphs">p.G374I (9833)</text><text transform="translate(143.93,238.6) rotate(-90)" font-size="4.9" fill="#dd6c8c" textLength="33.1" lengthAdjust="spacingAndGlyphs">p.P242H (90435)</text><text transform="translate(147.61,238.6) rotate(-90)" font-size="4.9" fill="#dd6c8c" textLength="22.8" lengthAdjust="spacingAndGlyphs">p.N383D (4)</text><text transform="translate(151.28,238.6) rotate(-90)" font-size="4.9" fill="#dd6c8c" textLength="34.6" lengthAdjust="spacingAndGlyphs">p.S211M (49751)</text><text transform="translate(154.96,238.6) rotate(-90)" font-size="4.9" fill="#dd6c8c" textLength="37.2" lengthAdjust="spacingAndGlyphs">p.PE407H (86512)</text><text transform="translate(158.64,238.6) rotate(-90)" font-size="4.9" fill="#dd6c8c" textLength="37.8" lengthAdjust="spacingAndGlyphs">p.AVA164W (82951)</text><text transform="translate(162.31,238.6) rotate(-90)" font-size="4.9" fill="#4e4e4e" textLength="29.6" lengthAdjust="spacingAndGlyphs">p.LQ209H (19)</text><text transform="translate(165.99,238.6) rotate(-90)" font-size="4.9" fill="#dd6c8c" textLength="28.2" lengthAdjust="spacingAndGlyphs">p.F72N (888)</text><text transform="translate(169.67,238.6) rotate(-90)" font-size="4.9" fill="#4e4e4e" textLength="24.7" lengthAdjust="spacingAndGlyphs">p.F546T (1)</text><text transform="translate(173.34,238.6) rotate(-90)" font-size="4.9" fill="#4e4e4e" textLength="27.3" lengthAdjust="spacingAndGlyphs">p.YG14F (38)</text><text transform="translate(177.02,238.6) rotate(-90)" font-size="4.9" fill="#dd6c8c" textLength="23.7" lengthAdjust="spacingAndGlyphs">p.T578S (2)</text><text transform="translate(180.70,238.6) rotate(-90)" font-size="4.9" fill="#4e4e4e" textLength="21.4" lengthAdjust="spacingAndGlyphs">p.H293C (2)</text><text transform="translate(184.38,238.6) rotate(-90)" font-size="4.9" fill="#4e4e4e" textLength="23.2" lengthAdjust="spacingAndGlyphs">p.D463M (9)</text><text transform="translate(188.05,238.6) rotate(-90)" font-size="4.9" fill="#4e4e4e" textLength="21.9" lengthAdjust="spacingAndGlyphs">p.K473T (9)</text><text transform="translate(191.73,238.6) rotate(-90)" font-size="4.9" fill="#4e4e4e" textLength="23.0" lengthAdjust="spacingAndGlyphs">p.I545K (9)</text><text transform="translate(195.41,238.6) rotate(-90)" font-size="4.9" fill="#4e4e4e" textLength="21.9" lengthAdjust="spacingAndGlyphs">p.R150Q (2)</text><text transform="translate(199.08,238.6) rotate(-90)" font-size="4.9" fill="#dd6c8c" textLength="21.6" lengthAdjust="spacingAndGlyphs">p.M84I (7)</text><text transform="translate(202.76,238.6) rotate(-90)" font-size="4.9" fill="#dd6c8c" textLength="20.5" lengthAdjust="spacingAndGlyphs">p.L135F (6)</text><text transform="translate(206.44,238.6) rotate(-90)" font-size="4.9" fill="#dd6c8c" textLength="20.7" lengthAdjust="spacingAndGlyphs">p.F488I (2)</text><text transform="translate(210.12,238.6) rotate(-90)" font-size="4.9" fill="#dd6c8c" textLength="21.6" lengthAdjust="spacingAndGlyphs">p.S176I (3)</text><text transform="translate(213.79,238.6) rotate(-90)" font-size="4.9" fill="#dd6c8c" textLength="31.7" lengthAdjust="spacingAndGlyphs">p.VNMT423M (7)</text><text transform="translate(217.47,238.6) rotate(-90)" font-size="4.9" fill="#dd6c8c" textLength="21.9" lengthAdjust="spacingAndGlyphs">p.A403M (9)</text><text transform="translate(221.15,238.6) rotate(-90)" font-size="4.9" fill="#dd6c8c" textLength="22.4" lengthAdjust="spacingAndGlyphs">p.T75E (4)</text><text transform="translate(224.82,238.6) rotate(-90)" font-size="4.9" fill="#dd6c8c" textLength="23.7" lengthAdjust="spacingAndGlyphs">p.E96K (5)</text><text transform="translate(228.50,238.6) rotate(-90)" font-size="4.9" fill="#dd6c8c" textLength="20.3" lengthAdjust="spacingAndGlyphs">p.G286F (7)</text><text transform="translate(232.18,238.6) rotate(-90)" font-size="4.9" fill="#dd6c8c" textLength="23.3" lengthAdjust="spacingAndGlyphs">p.K425F (9)</text><text transform="translate(235.85,238.6) rotate(-90)" font-size="4.9" fill="#dd6c8c" textLength="34.5" lengthAdjust="spacingAndGlyphs">p.AGW516M (214)</text><text transform="translate(239.53,238.6) rotate(-90)" font-size="4.9" fill="#dd6c8c" textLength="20.5" lengthAdjust="spacingAndGlyphs">p.I78K (2)</text><text transform="translate(243.21,238.6) rotate(-90)" font-size="4.9" fill="#dd6c8c" textLength="21.8" lengthAdjust="spacingAndGlyphs">p.M576Q (5)</text><text transform="translate(246.88,238.6) rotate(-90)" font-size="4.9" fill="#dd6c8c" textLength="22.4" lengthAdjust="spacingAndGlyphs">p.C549I (2)</text><text transform="translate(250.56,238.6) rotate(-90)" font-size="4.9" fill="#dd6c8c" textLength="32.7" lengthAdjust="spacingAndGlyphs">p.TK61G (4434)</text><text transform="translate(254.24,238.6) rotate(-90)" font-size="4.9" fill="#dd6c8c" textLength="21.4" lengthAdjust="spacingAndGlyphs">p.A266C (1)</text><text transform="translate(257.92,238.6) rotate(-90)" font-size="4.9" fill="#4e4e4e" textLength="22.3" lengthAdjust="spacingAndGlyphs">p.T574H (9)</text><text transform="translate(261.59,238.6) rotate(-90)" font-size="4.9" fill="#4e4e4e" textLength="23.9" lengthAdjust="spacingAndGlyphs">p.R118Q (8)</text><text transform="translate(265.27,238.6) rotate(-90)" font-size="4.9" fill="#4e4e4e" textLength="24.2" lengthAdjust="spacingAndGlyphs">p.P528L (4)</text><text transform="translate(268.95,238.6) rotate(-90)" font-size="4.9" fill="#4e4e4e" textLength="25.7" lengthAdjust="spacingAndGlyphs">p.M213F (7)</text><text transform="translate(272.62,238.6) rotate(-90)" font-size="4.9" fill="#4e4e4e" textLength="25.8" lengthAdjust="spacingAndGlyphs">p.C142A (2)</text><text transform="translate(276.30,238.6) rotate(-90)" font-size="4.9" fill="#4e4e4e" textLength="28.5" lengthAdjust="spacingAndGlyphs">p.PK451G (1)</text><text transform="translate(279.98,238.6) rotate(-90)" font-size="4.9" fill="#4e4e4e" textLength="25.3" lengthAdjust="spacingAndGlyphs">p.L258L (1)</text><text transform="translate(283.65,238.6) rotate(-90)" font-size="4.9" fill="#4e4e4e" textLength="23.9" lengthAdjust="spacingAndGlyphs">p.G285R (1)</text><text transform="translate(287.33,238.6) rotate(-90)" font-size="4.9" fill="#dd6c8c" textLength="36.1" lengthAdjust="spacingAndGlyphs">p.KPGLM570M (43)</text><text transform="translate(291.01,238.6) rotate(-90)" font-size="4.9" fill="#dd6c8c" textLength="24.0" lengthAdjust="spacingAndGlyphs">p.D280D (3)</text><text transform="translate(294.69,238.6) rotate(-90)" font-size="4.9" fill="#dd6c8c" textLength="21.4" lengthAdjust="spacingAndGlyphs">p.A316L (4)</text><text transform="translate(298.36,238.6) rotate(-90)" font-size="4.9" fill="#dd6c8c" textLength="24.6" lengthAdjust="spacingAndGlyphs">p.F408M (8)</text><text transform="translate(302.04,238.6) rotate(-90)" font-size="4.9" fill="#dd6c8c" textLength="23.8" lengthAdjust="spacingAndGlyphs">p.F54T (7)</text><text transform="translate(305.72,238.6) rotate(-90)" font-size="4.9" fill="#4e4e4e" textLength="23.1" lengthAdjust="spacingAndGlyphs">p.F546T (1)</text><text transform="translate(309.39,238.6) rotate(-90)" font-size="4.9" fill="#4e4e4e" textLength="22.3" lengthAdjust="spacingAndGlyphs">p.I97A (1)</text><text transform="translate(313.07,238.6) rotate(-90)" font-size="4.9" fill="#dd6c8c" textLength="21.5" lengthAdjust="spacingAndGlyphs">p.E395R (9)</text><text transform="translate(316.75,238.6) rotate(-90)" font-size="4.9" fill="#dd6c8c" textLength="20.3" lengthAdjust="spacingAndGlyphs">p.V260S (5)</text><text transform="translate(320.42,238.6) rotate(-90)" font-size="4.9" fill="#dd6c8c" textLength="23.1" lengthAdjust="spacingAndGlyphs">p.T558D (9)</text><text transform="translate(324.10,238.6) rotate(-90)" font-size="4.9" fill="#dd6c8c" textLength="32.4" lengthAdjust="spacingAndGlyphs">p.RHS268D (56)</text><text transform="translate(327.78,238.6) rotate(-90)" font-size="4.9" fill="#dd6c8c" textLength="23.5" lengthAdjust="spacingAndGlyphs">p.L57Y (4)</text><text transform="translate(331.46,238.6) rotate(-90)" font-size="4.9" fill="#dd6c8c" textLength="20.7" lengthAdjust="spacingAndGlyphs">p.K321Y (3)</text><text transform="translate(335.13,238.6) rotate(-90)" font-size="4.9" fill="#dd6c8c" textLength="32.2" lengthAdjust="spacingAndGlyphs">p.RTC507K (27)</text><text transform="translate(338.81,238.6) rotate(-90)" font-size="4.9" fill="#4e4e4e" textLength="20.6" lengthAdjust="spacingAndGlyphs">p.V214L (2)</text><text transform="translate(342.49,238.6) rotate(-90)" font-size="4.9" fill="#4e4e4e" textLength="20.3" lengthAdjust="spacingAndGlyphs">p.R88T (8)</text><text transform="translate(346.16,238.6) rotate(-90)" font-size="4.9" fill="#4e4e4e" textLength="21.6" lengthAdjust="spacingAndGlyphs">p.H86W (2)</text><text transform="translate(345.25,238.6) rotate(-90)" font-size="4.3" fill="#e27f9c" textLength="25.0" lengthAdjust="spacingAndGlyphs">p.F546K (6)</text><text transform="translate(352.95,238.6) rotate(-90)" font-size="4.3" fill="#5e5e5e" textLength="23.0" lengthAdjust="spacingAndGlyphs">p.F530K (2)</text><text transform="translate(360.65,238.6) rotate(-90)" font-size="4.3" fill="#e27f9c" textLength="20.0" lengthAdjust="spacingAndGlyphs">p.N246S (8)</text><text transform="translate(368.45,238.6) rotate(-90)" font-size="4.3" fill="#5e5e5e" textLength="20.0" lengthAdjust="spacingAndGlyphs">p.P35G (1)</text><text transform="translate(375.25,238.6) rotate(-90)" font-size="4.3" fill="#5e5e5e" textLength="23.5" lengthAdjust="spacingAndGlyphs">p.S471P (5)</text><text transform="translate(386.05,238.6) rotate(-90)" font-size="4.3" fill="#5e5e5e" textLength="20.5" lengthAdjust="spacingAndGlyphs">p.F436N (7)</text><text transform="translate(393.75,238.6) rotate(-90)" font-size="4.3" fill="#5e5e5e" textLength="24.5" lengthAdjust="spacingAndGlyphs">p.M133M (1)</text><text transform="translate(408.45,238.6) rotate(-90)" font-size="4.3" fill="#5e5e5e" textLength="20.5" lengthAdjust="spacingAndGlyphs">p.M356P (2)</text><text transform="translate(423.15,238.6) rotate(-90)" font-size="4.3" fill="#5e5e5e" textLength="23.0" lengthAdjust="spacingAndGlyphs">p.H22L (5)</text><text transform="translate(429.95,238.6) rotate(-90)" font-size="4.3" fill="#5e5e5e" textLength="24.0" lengthAdjust="spacingAndGlyphs">p.N76P (7)</text><text transform="translate(433.45,238.6) rotate(-90)" font-size="4.3" fill="#e27f9c" textLength="32.5" lengthAdjust="spacingAndGlyphs">p.CW88N (7042)</text><text transform="translate(445.95,238.6) rotate(-90)" font-size="4.3" fill="#5e5e5e" textLength="22.5" lengthAdjust="spacingAndGlyphs">p.I282Q (9)</text><text transform="translate(453.15,238.6) rotate(-90)" font-size="4.3" fill="#5e5e5e" textLength="23.5" lengthAdjust="spacingAndGlyphs">p.M204N (7)</text><text transform="translate(460.05,238.6) rotate(-90)" font-size="4.3" fill="#5e5e5e" textLength="25.5" lengthAdjust="spacingAndGlyphs">p.A419V (9)</text><text transform="translate(467.05,238.6) rotate(-90)" font-size="4.3" fill="#5e5e5e" textLength="25.5" lengthAdjust="spacingAndGlyphs">p.H92C (72)</text><text transform="translate(470.45,238.6) rotate(-90)" font-size="4.3" fill="#e27f9c" textLength="31.5" lengthAdjust="spacingAndGlyphs">p.KSL507C (94)</text><text transform="translate(492.95,238.6) rotate(-90)" font-size="4.3" fill="#5e5e5e" textLength="20.5" lengthAdjust="spacingAndGlyphs">p.P254L (8)</text><text transform="translate(500.25,238.6) rotate(-90)" font-size="4.3" fill="#5e5e5e" textLength="22.5" lengthAdjust="spacingAndGlyphs">p.V413E (3)</text><text transform="translate(44.65,352.6) rotate(-90)" font-size="4.9" fill="#4e4e4e" text-anchor="end" textLength="20.9" lengthAdjust="spacingAndGlyphs">p.D222T (8)</text><text transform="translate(48.33,352.6) rotate(-90)" font-size="4.9" fill="#4e4e4e" text-anchor="end" textLength="20.7" lengthAdjust="spacingAndGlyphs">p.R350R (7)</text><text transform="translate(52.00,352.6) rotate(-90)" font-size="4.9" fill="#4e4e4e" text-anchor="end" textLength="19.4" lengthAdjust="spacingAndGlyphs">p.H259D (3)</text><text transform="translate(55.68,352.6) rotate(-90)" font-size="4.9" fill="#dd6c8c" text-anchor="end" textLength="24.3" lengthAdjust="spacingAndGlyphs">p.D336I (6)</text><text transform="translate(59.36,352.6) rotate(-90)" font-size="4.9" fill="#dd6c8c" text-anchor="end" textLength="23.4" lengthAdjust="spacingAndGlyphs">p.W216A (7)</text><text transform="translate(63.04,352.6) rotate(-90)" font-size="4.9" fill="#dd6c8c" text-anchor="end" textLength="24.7" lengthAdjust="spacingAndGlyphs">p.T225P (5)</text><text transform="translate(66.71,352.6) rotate(-90)" font-size="4.9" fill="#4e4e4e" text-anchor="end" textLength="20.0" lengthAdjust="spacingAndGlyphs">p.C520K (6)</text><text transform="translate(70.39,352.6) rotate(-90)" font-size="4.9" fill="#4e4e4e" text-anchor="end" textLength="19.4" lengthAdjust="spacingAndGlyphs">p.T551H (2)</text><text transform="translate(74.07,352.6) rotate(-90)" font-size="4.9" fill="#dd6c8c" text-anchor="end" textLength="21.1" lengthAdjust="spacingAndGlyphs">p.I403P (8)</text><text transform="translate(77.74,352.6) rotate(-90)" font-size="4.9" fill="#4e4e4e" text-anchor="end" textLength="32.8" lengthAdjust="spacingAndGlyphs">p.PL32F (1778)</text><text transform="translate(81.42,352.6) rotate(-90)" font-size="4.9" fill="#4e4e4e" text-anchor="end" textLength="21.6" lengthAdjust="spacingAndGlyphs">p.R264E (4)</text><text transform="translate(85.10,352.6) rotate(-90)" font-size="4.9" fill="#4e4e4e" text-anchor="end" textLength="19.5" lengthAdjust="spacingAndGlyphs">p.T121R (2)</text><text transform="translate(88.77,352.6) rotate(-90)" font-size="4.9" fill="#4e4e4e" text-anchor="end" textLength="20.7" lengthAdjust="spacingAndGlyphs">p.C11F (4)</text><text transform="translate(92.45,352.6) rotate(-90)" font-size="4.9" fill="#4e4e4e" text-anchor="end" textLength="20.7" lengthAdjust="spacingAndGlyphs">p.C321F (5)</text><text transform="translate(96.13,352.6) rotate(-90)" font-size="4.9" fill="#4e4e4e" text-anchor="end" textLength="20.6" lengthAdjust="spacingAndGlyphs">p.Q124E (2)</text><text transform="translate(99.81,352.6) rotate(-90)" font-size="4.9" fill="#4e4e4e" text-anchor="end" textLength="19.9" lengthAdjust="spacingAndGlyphs">p.W206P (5)</text><text transform="translate(103.48,352.6) rotate(-90)" font-size="4.9" fill="#4e4e4e" text-anchor="end" textLength="19.7" lengthAdjust="spacingAndGlyphs">p.Y11A (9)</text><text transform="translate(107.16,352.6) rotate(-90)" font-size="4.9" fill="#dd6c8c" text-anchor="end" textLength="25.5" lengthAdjust="spacingAndGlyphs">p.R295M (4)</text><text transform="translate(110.84,352.6) rotate(-90)" font-size="4.9" fill="#dd6c8c" text-anchor="end" textLength="27.3" lengthAdjust="spacingAndGlyphs">p.I570I (14)</text><text transform="translate(114.51,352.6) rotate(-90)" font-size="4.9" fill="#dd6c8c" text-anchor="end" textLength="22.9" lengthAdjust="spacingAndGlyphs">p.H520Q (2)</text><text transform="translate(118.19,352.6) rotate(-90)" font-size="4.9" fill="#dd6c8c" text-anchor="end" textLength="25.0" lengthAdjust="spacingAndGlyphs">p.Q389I (8)</text><text transform="translate(121.87,352.6) rotate(-90)" font-size="4.9" fill="#4e4e4e" text-anchor="end" textLength="19.6" lengthAdjust="spacingAndGlyphs">p.M440N (7)</text><text transform="translate(125.54,352.6) rotate(-90)" font-size="4.9" fill="#4e4e4e" text-anchor="end" textLength="20.1" lengthAdjust="spacingAndGlyphs">p.L526D (4)</text><text transform="translate(129.22,352.6) rotate(-90)" font-size="4.9" fill="#4e4e4e" text-anchor="end" textLength="21.0" lengthAdjust="spacingAndGlyphs">p.H329H (4)</text><text transform="translate(132.90,352.6) rotate(-90)" font-size="4.9" fill="#4e4e4e" text-anchor="end" textLength="20.9" lengthAdjust="spacingAndGlyphs">p.K312E (8)</text><text transform="translate(136.57,352.6) rotate(-90)" font-size="4.9" fill="#dd6c8c" text-anchor="end" textLength="26.0" lengthAdjust="spacingAndGlyphs">p.I506Q (1)</text><text transform="translate(140.25,352.6) rotate(-90)" font-size="4.9" fill="#4e4e4e" text-anchor="end" textLength="22.3" lengthAdjust="spacingAndGlyphs">p.F412C (4)</text><text transform="translate(143.93,352.6) rotate(-90)" font-size="4.9" fill="#4e4e4e" text-anchor="end" textLength="19.6" lengthAdjust="spacingAndGlyphs">p.Y155Q (1)</text><text transform="translate(147.61,352.6) rotate(-90)" font-size="4.9" fill="#dd6c8c" text-anchor="end" textLength="29.8" lengthAdjust="spacingAndGlyphs">p.G412R (615)</text><text transform="translate(151.28,352.6) rotate(-90)" font-size="4.9" fill="#dd6c8c" text-anchor="end" textLength="24.3" lengthAdjust="spacingAndGlyphs">p.T488C (5)</text><text transform="translate(154.96,352.6) rotate(-90)" font-size="4.9" fill="#4e4e4e" text-anchor="end" textLength="21.6" lengthAdjust="spacingAndGlyphs">p.N349R (3)</text><text transform="translate(158.64,352.6) rotate(-90)" font-size="4.9" fill="#dd6c8c" text-anchor="end" textLength="20.7" lengthAdjust="spacingAndGlyphs">p.D369Q (2)</text><text transform="translate(162.31,352.6) rotate(-90)" font-size="4.9" fill="#4e4e4e" text-anchor="end" textLength="21.2" lengthAdjust="spacingAndGlyphs">p.H399N (5)</text><text transform="translate(165.99,352.6) rotate(-90)" font-size="4.9" fill="#4e4e4e" text-anchor="end" textLength="22.0" lengthAdjust="spacingAndGlyphs">p.Q99C (8)</text><text transform="translate(169.67,352.6) rotate(-90)" font-size="4.9" fill="#dd6c8c" text-anchor="end" textLength="24.4" lengthAdjust="spacingAndGlyphs">p.V467H (6)</text><text transform="translate(173.34,352.6) rotate(-90)" font-size="4.9" fill="#dd6c8c" text-anchor="end" textLength="26.2" lengthAdjust="spacingAndGlyphs">p.S41Q (46)</text><text transform="translate(177.02,352.6) rotate(-90)" font-size="4.9" fill="#dd6c8c" text-anchor="end" textLength="33.0" lengthAdjust="spacingAndGlyphs">p.DC485D (1559)</text><text transform="translate(180.70,352.6) rotate(-90)" font-size="4.9" fill="#4e4e4e" text-anchor="end" textLength="19.6" lengthAdjust="spacingAndGlyphs">p.M292L (1)</text><text transform="translate(184.38,352.6) rotate(-90)" font-size="4.9" fill="#4e4e4e" text-anchor="end" textLength="21.7" lengthAdjust="spacingAndGlyphs">p.Y76A (4)</text><text transform="translate(188.05,352.6) rotate(-90)" font-size="4.9" fill="#4e4e4e" text-anchor="end" textLength="19.8" lengthAdjust="spacingAndGlyphs">p.R405K (7)</text><text transform="translate(191.73,352.6) rotate(-90)" font-size="4.9" fill="#4e4e4e" text-anchor="end" textLength="21.9" lengthAdjust="spacingAndGlyphs">p.F518G (1)</text><text transform="translate(195.41,352.6) rotate(-90)" font-size="4.9" fill="#4e4e4e" text-anchor="end" textLength="21.9" lengthAdjust="spacingAndGlyphs">p.L164Y (4)</text><text transform="translate(199.08,352.6) rotate(-90)" font-size="4.9" fill="#4e4e4e" text-anchor="end" textLength="20.5" lengthAdjust="spacingAndGlyphs">p.M481N (2)</text><text transform="translate(202.76,352.6) rotate(-90)" font-size="4.9" fill="#4e4e4e" text-anchor="end" textLength="21.0" lengthAdjust="spacingAndGlyphs">p.P173I (7)</text><text transform="translate(206.44,352.6) rotate(-90)" font-size="4.9" fill="#4e4e4e" text-anchor="end" textLength="19.7" lengthAdjust="spacingAndGlyphs">p.C503V (9)</text><text transform="translate(210.12,352.6) rotate(-90)" font-size="4.9" fill="#4e4e4e" text-anchor="end" textLength="20.5" lengthAdjust="spacingAndGlyphs">p.Q117D (5)</text><text transform="translate(213.79,352.6) rotate(-90)" font-size="4.9" fill="#4e4e4e" text-anchor="end" textLength="21.4" lengthAdjust="spacingAndGlyphs">p.H108Q (8)</text><text transform="translate(217.47,352.6) rotate(-90)" font-size="4.9" fill="#dd6c8c" text-anchor="end" textLength="21.5" lengthAdjust="spacingAndGlyphs">p.R187I (3)</text><text transform="translate(221.15,352.6) rotate(-90)" font-size="4.9" fill="#dd6c8c" text-anchor="end" textLength="19.8" lengthAdjust="spacingAndGlyphs">p.Y250V (2)</text><text transform="translate(224.82,352.6) rotate(-90)" font-size="4.9" fill="#4e4e4e" text-anchor="end" textLength="21.8" lengthAdjust="spacingAndGlyphs">p.L310K (5)</text><text transform="translate(228.50,352.6) rotate(-90)" font-size="4.9" fill="#4e4e4e" text-anchor="end" textLength="20.6" lengthAdjust="spacingAndGlyphs">p.K213R (4)</text><text transform="translate(232.18,352.6) rotate(-90)" font-size="4.9" fill="#4e4e4e" text-anchor="end" textLength="20.1" lengthAdjust="spacingAndGlyphs">p.I167L (4)</text><text transform="translate(235.85,352.6) rotate(-90)" font-size="4.9" fill="#4e4e4e" text-anchor="end" textLength="20.5" lengthAdjust="spacingAndGlyphs">p.P267I (9)</text><text transform="translate(239.53,352.6) rotate(-90)" font-size="4.9" fill="#dd6c8c" text-anchor="end" textLength="24.3" lengthAdjust="spacingAndGlyphs">p.E485C (2)</text><text transform="translate(243.21,352.6) rotate(-90)" font-size="4.9" fill="#dd6c8c" text-anchor="end" textLength="19.5" lengthAdjust="spacingAndGlyphs">p.I469N (1)</text><text transform="translate(246.88,352.6) rotate(-90)" font-size="4.9" fill="#4e4e4e" text-anchor="end" textLength="22.1" lengthAdjust="spacingAndGlyphs">p.I132C (4)</text><text transform="translate(250.56,352.6) rotate(-90)" font-size="4.9" fill="#dd6c8c" text-anchor="end" textLength="22.3" lengthAdjust="spacingAndGlyphs">p.W208D (6)</text><text transform="translate(254.24,352.6) rotate(-90)" font-size="4.9" fill="#dd6c8c" text-anchor="end" textLength="22.0" lengthAdjust="spacingAndGlyphs">p.G469Y (5)</text><text transform="translate(257.92,352.6) rotate(-90)" font-size="4.9" fill="#4e4e4e" text-anchor="end" textLength="21.8" lengthAdjust="spacingAndGlyphs">p.A118Y (6)</text><text transform="translate(261.59,352.6) rotate(-90)" font-size="4.9" fill="#4e4e4e" text-anchor="end" textLength="20.2" lengthAdjust="spacingAndGlyphs">p.N358F (1)</text><text transform="translate(265.27,352.6) rotate(-90)" font-size="4.9" fill="#4e4e4e" text-anchor="end" textLength="20.1" lengthAdjust="spacingAndGlyphs">p.K49Y (4)</text><text transform="translate(268.95,352.6) rotate(-90)" font-size="4.9" fill="#dd6c8c" text-anchor="end" textLength="22.9" lengthAdjust="spacingAndGlyphs">p.M428N (3)</text><text transform="translate(272.62,352.6) rotate(-90)" font-size="4.9" fill="#4e4e4e" text-anchor="end" textLength="21.4" lengthAdjust="spacingAndGlyphs">p.D218C (8)</text><text transform="translate(276.30,352.6) rotate(-90)" font-size="4.9" fill="#dd6c8c" text-anchor="end" textLength="28.1" lengthAdjust="spacingAndGlyphs">p.D427E (72)</text><text transform="translate(279.98,352.6) rotate(-90)" font-size="4.9" fill="#dd6c8c" text-anchor="end" textLength="29.1" lengthAdjust="spacingAndGlyphs">p.D177P (546)</text><text transform="translate(283.65,352.6) rotate(-90)" font-size="4.9" fill="#4e4e4e" text-anchor="end" textLength="22.4" lengthAdjust="spacingAndGlyphs">p.L590N (7)</text><text transform="translate(287.33,352.6) rotate(-90)" font-size="4.9" fill="#4e4e4e" text-anchor="end" textLength="20.7" lengthAdjust="spacingAndGlyphs">p.N211P (7)</text><text transform="translate(291.01,352.6) rotate(-90)" font-size="4.9" fill="#4e4e4e" text-anchor="end" textLength="20.1" lengthAdjust="spacingAndGlyphs">p.A454G (7)</text><text transform="translate(294.69,352.6) rotate(-90)" font-size="4.9" fill="#4e4e4e" text-anchor="end" textLength="19.8" lengthAdjust="spacingAndGlyphs">p.D425W (6)</text><text transform="translate(298.36,352.6) rotate(-90)" font-size="4.9" fill="#4e4e4e" text-anchor="end" textLength="20.9" lengthAdjust="spacingAndGlyphs">p.G143A (1)</text><text transform="translate(302.04,352.6) rotate(-90)" font-size="4.9" fill="#4e4e4e" text-anchor="end" textLength="21.2" lengthAdjust="spacingAndGlyphs">p.P101W (6)</text><text transform="translate(305.72,352.6) rotate(-90)" font-size="4.9" fill="#dd6c8c" text-anchor="end" textLength="27.2" lengthAdjust="spacingAndGlyphs">p.GG159N (5)</text><text transform="translate(309.39,352.6) rotate(-90)" font-size="4.9" fill="#4e4e4e" text-anchor="end" textLength="22.3" lengthAdjust="spacingAndGlyphs">p.E402S (4)</text><text transform="translate(313.07,352.6) rotate(-90)" font-size="4.9" fill="#4e4e4e" text-anchor="end" textLength="20.4" lengthAdjust="spacingAndGlyphs">p.C504M (1)</text><text transform="translate(316.75,352.6) rotate(-90)" font-size="4.9" fill="#4e4e4e" text-anchor="end" textLength="21.3" lengthAdjust="spacingAndGlyphs">p.P98Y (3)</text><text transform="translate(320.42,352.6) rotate(-90)" font-size="4.9" fill="#dd6c8c" text-anchor="end" textLength="26.3" lengthAdjust="spacingAndGlyphs">p.I424Y (4)</text><text transform="translate(324.10,352.6) rotate(-90)" font-size="4.9" fill="#4e4e4e" text-anchor="end" textLength="22.0" lengthAdjust="spacingAndGlyphs">p.G588H (1)</text><text transform="translate(327.78,352.6) rotate(-90)" font-size="4.9" fill="#4e4e4e" text-anchor="end" textLength="20.7" lengthAdjust="spacingAndGlyphs">p.T170P (6)</text><text transform="translate(331.46,352.6) rotate(-90)" font-size="4.9" fill="#4e4e4e" text-anchor="end" textLength="19.9" lengthAdjust="spacingAndGlyphs">p.I207C (9)</text><text transform="translate(335.13,352.6) rotate(-90)" font-size="4.9" fill="#dd6c8c" text-anchor="end" textLength="31.2" lengthAdjust="spacingAndGlyphs">p.C341E (7844)</text><text transform="translate(338.81,352.6) rotate(-90)" font-size="4.9" fill="#4e4e4e" text-anchor="end" textLength="21.2" lengthAdjust="spacingAndGlyphs">p.Q408N (8)</text><text transform="translate(342.49,352.6) rotate(-90)" font-size="4.9" fill="#4e4e4e" text-anchor="end" textLength="21.0" lengthAdjust="spacingAndGlyphs">p.G33A (8)</text><text transform="translate(346.16,352.6) rotate(-90)" font-size="4.9" fill="#dd6c8c" text-anchor="end" textLength="27.2" lengthAdjust="spacingAndGlyphs">p.R479G (81)</text><text transform="translate(349.84,352.6) rotate(-90)" font-size="4.9" fill="#dd6c8c" text-anchor="end" textLength="23.7" lengthAdjust="spacingAndGlyphs">p.Q384D (8)</text><text transform="translate(353.52,352.6) rotate(-90)" font-size="4.9" fill="#4e4e4e" text-anchor="end" textLength="21.0" lengthAdjust="spacingAndGlyphs">p.C51F (2)</text><text transform="translate(357.19,352.6) rotate(-90)" font-size="4.9" fill="#4e4e4e" text-anchor="end" textLength="22.3" lengthAdjust="spacingAndGlyphs">p.M533D (1)</text><text transform="translate(360.87,352.6) rotate(-90)" font-size="4.9" fill="#4e4e4e" text-anchor="end" textLength="21.8" lengthAdjust="spacingAndGlyphs">p.P149A (2)</text><text transform="translate(364.55,352.6) rotate(-90)" font-size="4.9" fill="#dd6c8c" text-anchor="end" textLength="24.5" lengthAdjust="spacingAndGlyphs">p.E208F (8)</text><text transform="translate(368.23,352.6) rotate(-90)" font-size="4.9" fill="#dd6c8c" text-anchor="end" textLength="22.4" lengthAdjust="spacingAndGlyphs">p.G236D (6)</text><text transform="translate(371.90,352.6) rotate(-90)" font-size="4.9" fill="#4e4e4e" text-anchor="end" textLength="21.3" lengthAdjust="spacingAndGlyphs">p.K172M (5)</text><text transform="translate(375.58,352.6) rotate(-90)" font-size="4.9" fill="#4e4e4e" text-anchor="end" textLength="22.2" lengthAdjust="spacingAndGlyphs">p.R157K (9)</text><text transform="translate(379.26,352.6) rotate(-90)" font-size="4.9" fill="#4e4e4e" text-anchor="end" textLength="22.4" lengthAdjust="spacingAndGlyphs">p.S223W (5)</text><text transform="translate(382.93,352.6) rotate(-90)" font-size="4.9" fill="#4e4e4e" text-anchor="end" textLength="21.3" lengthAdjust="spacingAndGlyphs">p.I336N (1)</text><text transform="translate(386.61,352.6) rotate(-90)" font-size="4.9" fill="#dd6c8c" text-anchor="end" textLength="22.8" lengthAdjust="spacingAndGlyphs">p.P175K (6)</text><text transform="translate(390.29,352.6) rotate(-90)" font-size="4.9" fill="#4e4e4e" text-anchor="end" textLength="22.2" lengthAdjust="spacingAndGlyphs">p.G280E (9)</text><text transform="translate(393.96,352.6) rotate(-90)" font-size="4.9" fill="#4e4e4e" text-anchor="end" textLength="19.6" lengthAdjust="spacingAndGlyphs">p.N473V (9)</text><text transform="translate(397.64,352.6) rotate(-90)" font-size="4.9" fill="#4e4e4e" text-anchor="end" textLength="21.2" lengthAdjust="spacingAndGlyphs">p.E268V (7)</text><text transform="translate(401.32,352.6) rotate(-90)" font-size="4.9" fill="#4e4e4e" text-anchor="end" textLength="21.7" lengthAdjust="spacingAndGlyphs">p.N281P (6)</text><text transform="translate(405.00,352.6) rotate(-90)" font-size="4.9" fill="#4e4e4e" text-anchor="end" textLength="21.2" lengthAdjust="spacingAndGlyphs">p.N348D (8)</text><text transform="translate(408.67,352.6) rotate(-90)" font-size="4.9" fill="#4e4e4e" text-anchor="end" textLength="20.2" lengthAdjust="spacingAndGlyphs">p.Y59L (9)</text><text transform="translate(412.35,352.6) rotate(-90)" font-size="4.9" fill="#4e4e4e" text-anchor="end" textLength="20.3" lengthAdjust="spacingAndGlyphs">p.W330A (1)</text><text transform="translate(416.03,352.6) rotate(-90)" font-size="4.9" fill="#4e4e4e" text-anchor="end" textLength="20.2" lengthAdjust="spacingAndGlyphs">p.L452Q (9)</text><text transform="translate(419.70,352.6) rotate(-90)" font-size="4.9" fill="#4e4e4e" text-anchor="end" textLength="20.6" lengthAdjust="spacingAndGlyphs">p.C145S (4)</text><text transform="translate(423.38,352.6) rotate(-90)" font-size="4.9" fill="#4e4e4e" text-anchor="end" textLength="27.6" lengthAdjust="spacingAndGlyphs">p.C12W (683)</text><text transform="translate(427.06,352.6) rotate(-90)" font-size="4.9" fill="#dd6c8c" text-anchor="end" textLength="23.8" lengthAdjust="spacingAndGlyphs">p.F219N (8)</text><text transform="translate(430.73,352.6) rotate(-90)" font-size="4.9" fill="#dd6c8c" text-anchor="end" textLength="21.0" lengthAdjust="spacingAndGlyphs">p.I162R (2)</text><text transform="translate(434.41,352.6) rotate(-90)" font-size="4.9" fill="#dd6c8c" text-anchor="end" textLength="22.3" lengthAdjust="spacingAndGlyphs">p.K421K (1)</text><text transform="translate(438.09,352.6) rotate(-90)" font-size="4.9" fill="#dd6c8c" text-anchor="end" textLength="29.0" lengthAdjust="spacingAndGlyphs">p.AN464Y (93)</text><text transform="translate(441.77,352.6) rotate(-90)" font-size="4.9" fill="#dd6c8c" text-anchor="end" textLength="26.1" lengthAdjust="spacingAndGlyphs">p.P200I (3)</text><text transform="translate(445.44,352.6) rotate(-90)" font-size="4.9" fill="#dd6c8c" text-anchor="end" textLength="28.6" lengthAdjust="spacingAndGlyphs">p.A574H (38)</text><text transform="translate(455.25,352.6) rotate(-90)" font-size="4.3" fill="#5e5e5e" text-anchor="end" textLength="21.0" lengthAdjust="spacingAndGlyphs">p.Y529Q (3)</text><text transform="translate(461.75,352.6) rotate(-90)" font-size="4.3" fill="#5e5e5e" text-anchor="end" textLength="24.0" lengthAdjust="spacingAndGlyphs">p.T326D (5)</text><text transform="translate(468.25,352.6) rotate(-90)" font-size="4.3" fill="#5e5e5e" text-anchor="end" textLength="22.0" lengthAdjust="spacingAndGlyphs">p.C499V (1)</text><text transform="translate(474.75,352.6) rotate(-90)" font-size="4.3" fill="#5e5e5e" text-anchor="end" textLength="25.0" lengthAdjust="spacingAndGlyphs">p.P457R (2)</text><text transform="translate(492.95,352.6) rotate(-90)" font-size="4.3" fill="#5e5e5e" text-anchor="end" textLength="28.0" lengthAdjust="spacingAndGlyphs">p.CR189I (2)</text><text transform="translate(499.95,352.6) rotate(-90)" font-size="4.3" fill="#e27f9c" text-anchor="end" textLength="30.0" lengthAdjust="spacingAndGlyphs">p.VE353K (18)</text></g>
</svg></body></html>
